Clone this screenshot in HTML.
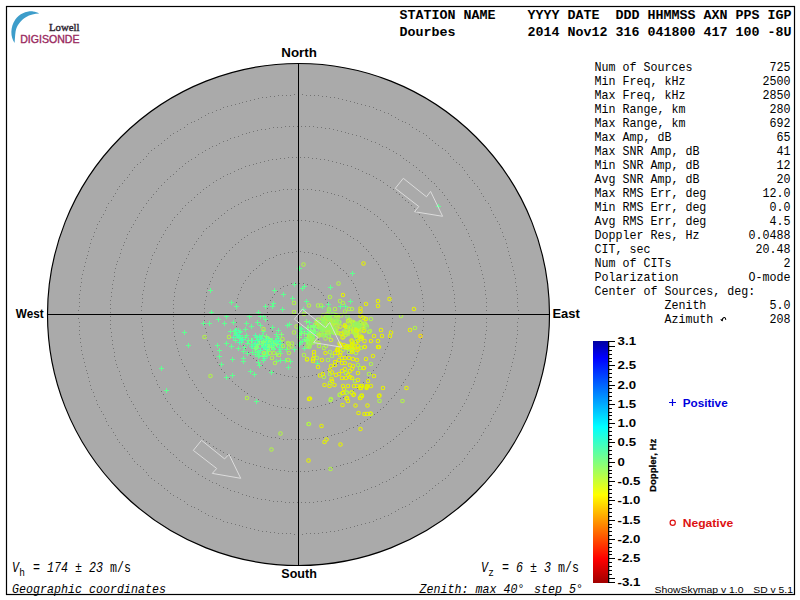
<!DOCTYPE html>
<html><head><meta charset="utf-8"><style>
html,body{margin:0;padding:0;background:#fff;width:800px;height:600px;overflow:hidden;position:relative}
text{font-kerning:none}
</style></head><body>
<svg width="800" height="600" viewBox="0 0 800 600" style="position:absolute;left:0;top:0">
<rect x="6.5" y="6.5" width="788" height="588" fill="none" stroke="#000" stroke-width="1.2"/>
<circle cx="298.5" cy="314.5" r="251" fill="#aaaaaa" stroke="#000" stroke-width="1.15"/>
<path d="M329,314h1v1h-1zM329,318h1v1h-1zM328,322h1v1h-1zM327,326h1v1h-1zM325,329h1v1h-1zM323,333h1v1h-1zM321,336h1v1h-1zM318,339h1v1h-1zM314,341h1v1h-1zM311,343h1v1h-1zM307,344h1v1h-1zM303,345h1v1h-1zM299,345h1v1h-1zM295,345h1v1h-1zM291,345h1v1h-1zM287,343h1v1h-1zM283,342h1v1h-1zM280,340h1v1h-1zM277,337h1v1h-1zM274,334h1v1h-1zM272,331h1v1h-1zM270,328h1v1h-1zM268,324h1v1h-1zM267,320h1v1h-1zM267,316h1v1h-1zM267,312h1v1h-1zM267,308h1v1h-1zM268,304h1v1h-1zM270,300h1v1h-1zM272,297h1v1h-1zM274,294h1v1h-1zM277,291h1v1h-1zM280,288h1v1h-1zM283,286h1v1h-1zM287,285h1v1h-1zM291,283h1v1h-1zM295,283h1v1h-1zM299,283h1v1h-1zM303,283h1v1h-1zM307,284h1v1h-1zM311,285h1v1h-1zM314,287h1v1h-1zM318,289h1v1h-1zM321,292h1v1h-1zM323,295h1v1h-1zM325,299h1v1h-1zM327,302h1v1h-1zM328,306h1v1h-1zM329,310h1v1h-1zM361,314h1v1h-1zM361,318h1v1h-1zM360,322h1v1h-1zM360,326h1v1h-1zM359,330h1v1h-1zM358,334h1v1h-1zM356,338h1v1h-1zM355,341h1v1h-1zM353,345h1v1h-1zM351,348h1v1h-1zM348,352h1v1h-1zM346,355h1v1h-1zM343,358h1v1h-1zM340,360h1v1h-1zM337,363h1v1h-1zM334,365h1v1h-1zM331,368h1v1h-1zM327,370h1v1h-1zM323,371h1v1h-1zM320,373h1v1h-1zM316,374h1v1h-1zM312,375h1v1h-1zM308,376h1v1h-1zM304,376h1v1h-1zM300,377h1v1h-1zM296,377h1v1h-1zM292,376h1v1h-1zM288,376h1v1h-1zM284,375h1v1h-1zM280,374h1v1h-1zM276,373h1v1h-1zM273,371h1v1h-1zM269,370h1v1h-1zM265,368h1v1h-1zM262,365h1v1h-1zM259,363h1v1h-1zM256,360h1v1h-1zM253,358h1v1h-1zM250,355h1v1h-1zM248,352h1v1h-1zM245,348h1v1h-1zM243,345h1v1h-1zM241,341h1v1h-1zM240,338h1v1h-1zM238,334h1v1h-1zM237,330h1v1h-1zM236,326h1v1h-1zM236,322h1v1h-1zM235,318h1v1h-1zM235,314h1v1h-1zM235,310h1v1h-1zM236,306h1v1h-1zM236,302h1v1h-1zM237,298h1v1h-1zM238,294h1v1h-1zM240,290h1v1h-1zM241,287h1v1h-1zM243,283h1v1h-1zM245,280h1v1h-1zM248,276h1v1h-1zM250,273h1v1h-1zM253,270h1v1h-1zM256,268h1v1h-1zM259,265h1v1h-1zM262,263h1v1h-1zM265,260h1v1h-1zM269,258h1v1h-1zM273,257h1v1h-1zM276,255h1v1h-1zM280,254h1v1h-1zM284,253h1v1h-1zM288,252h1v1h-1zM292,252h1v1h-1zM296,251h1v1h-1zM300,251h1v1h-1zM304,252h1v1h-1zM308,252h1v1h-1zM312,253h1v1h-1zM316,254h1v1h-1zM320,255h1v1h-1zM323,257h1v1h-1zM327,258h1v1h-1zM331,260h1v1h-1zM334,263h1v1h-1zM337,265h1v1h-1zM340,268h1v1h-1zM343,270h1v1h-1zM346,273h1v1h-1zM348,276h1v1h-1zM351,280h1v1h-1zM353,283h1v1h-1zM355,287h1v1h-1zM356,290h1v1h-1zM358,294h1v1h-1zM359,298h1v1h-1zM360,302h1v1h-1zM360,306h1v1h-1zM361,310h1v1h-1zM392,314h1v1h-1zM392,318h1v1h-1zM392,322h1v1h-1zM391,326h1v1h-1zM391,330h1v1h-1zM390,334h1v1h-1zM389,338h1v1h-1zM388,342h1v1h-1zM387,346h1v1h-1zM385,349h1v1h-1zM384,353h1v1h-1zM382,357h1v1h-1zM380,360h1v1h-1zM378,364h1v1h-1zM376,367h1v1h-1zM373,370h1v1h-1zM371,373h1v1h-1zM368,377h1v1h-1zM366,379h1v1h-1zM363,382h1v1h-1zM360,385h1v1h-1zM357,388h1v1h-1zM353,390h1v1h-1zM350,392h1v1h-1zM347,394h1v1h-1zM343,397h1v1h-1zM340,398h1v1h-1zM336,400h1v1h-1zM332,402h1v1h-1zM329,403h1v1h-1zM325,404h1v1h-1zM321,405h1v1h-1zM317,406h1v1h-1zM313,407h1v1h-1zM309,407h1v1h-1zM305,408h1v1h-1zM301,408h1v1h-1zM297,408h1v1h-1zM293,408h1v1h-1zM289,408h1v1h-1zM285,407h1v1h-1zM281,407h1v1h-1zM277,406h1v1h-1zM273,405h1v1h-1zM269,404h1v1h-1zM265,402h1v1h-1zM262,401h1v1h-1zM258,399h1v1h-1zM254,397h1v1h-1zM251,396h1v1h-1zM247,393h1v1h-1zM244,391h1v1h-1zM241,389h1v1h-1zM238,386h1v1h-1zM235,384h1v1h-1zM232,381h1v1h-1zM229,378h1v1h-1zM226,375h1v1h-1zM224,372h1v1h-1zM221,369h1v1h-1zM219,365h1v1h-1zM217,362h1v1h-1zM215,358h1v1h-1zM213,355h1v1h-1zM212,351h1v1h-1zM210,347h1v1h-1zM209,344h1v1h-1zM207,340h1v1h-1zM206,336h1v1h-1zM206,332h1v1h-1zM205,328h1v1h-1zM204,324h1v1h-1zM204,320h1v1h-1zM204,316h1v1h-1zM204,312h1v1h-1zM204,308h1v1h-1zM204,304h1v1h-1zM205,300h1v1h-1zM206,296h1v1h-1zM206,292h1v1h-1zM207,288h1v1h-1zM209,284h1v1h-1zM210,281h1v1h-1zM212,277h1v1h-1zM213,273h1v1h-1zM215,270h1v1h-1zM217,266h1v1h-1zM219,263h1v1h-1zM221,259h1v1h-1zM224,256h1v1h-1zM226,253h1v1h-1zM229,250h1v1h-1zM232,247h1v1h-1zM235,244h1v1h-1zM238,242h1v1h-1zM241,239h1v1h-1zM244,237h1v1h-1zM247,235h1v1h-1zM251,232h1v1h-1zM254,231h1v1h-1zM258,229h1v1h-1zM262,227h1v1h-1zM265,226h1v1h-1zM269,224h1v1h-1zM273,223h1v1h-1zM277,222h1v1h-1zM281,221h1v1h-1zM285,221h1v1h-1zM289,220h1v1h-1zM293,220h1v1h-1zM297,220h1v1h-1zM301,220h1v1h-1zM305,220h1v1h-1zM309,221h1v1h-1zM313,221h1v1h-1zM317,222h1v1h-1zM321,223h1v1h-1zM325,224h1v1h-1zM329,225h1v1h-1zM332,226h1v1h-1zM336,228h1v1h-1zM340,230h1v1h-1zM343,231h1v1h-1zM347,234h1v1h-1zM350,236h1v1h-1zM353,238h1v1h-1zM357,240h1v1h-1zM360,243h1v1h-1zM363,246h1v1h-1zM366,249h1v1h-1zM368,251h1v1h-1zM371,255h1v1h-1zM373,258h1v1h-1zM376,261h1v1h-1zM378,264h1v1h-1zM380,268h1v1h-1zM382,271h1v1h-1zM384,275h1v1h-1zM385,279h1v1h-1zM387,282h1v1h-1zM388,286h1v1h-1zM389,290h1v1h-1zM390,294h1v1h-1zM391,298h1v1h-1zM391,302h1v1h-1zM392,306h1v1h-1zM392,310h1v1h-1zM424,314h1v1h-1zM423,318h1v1h-1zM423,322h1v1h-1zM423,326h1v1h-1zM422,330h1v1h-1zM422,334h1v1h-1zM421,338h1v1h-1zM420,342h1v1h-1zM419,346h1v1h-1zM418,350h1v1h-1zM417,353h1v1h-1zM416,357h1v1h-1zM414,361h1v1h-1zM413,365h1v1h-1zM411,368h1v1h-1zM409,372h1v1h-1zM408,375h1v1h-1zM405,379h1v1h-1zM403,382h1v1h-1zM401,385h1v1h-1zM399,389h1v1h-1zM396,392h1v1h-1zM394,395h1v1h-1zM391,398h1v1h-1zM388,401h1v1h-1zM386,404h1v1h-1zM383,407h1v1h-1zM380,409h1v1h-1zM377,412h1v1h-1zM374,414h1v1h-1zM370,417h1v1h-1zM367,419h1v1h-1zM364,421h1v1h-1zM360,423h1v1h-1zM357,425h1v1h-1zM353,427h1v1h-1zM349,428h1v1h-1zM346,430h1v1h-1zM342,432h1v1h-1zM338,433h1v1h-1zM334,434h1v1h-1zM331,435h1v1h-1zM327,436h1v1h-1zM323,437h1v1h-1zM319,438h1v1h-1zM315,438h1v1h-1zM311,439h1v1h-1zM307,439h1v1h-1zM303,439h1v1h-1zM299,439h1v1h-1zM295,439h1v1h-1zM291,439h1v1h-1zM287,439h1v1h-1zM283,439h1v1h-1zM279,438h1v1h-1zM275,437h1v1h-1zM271,437h1v1h-1zM267,436h1v1h-1zM263,435h1v1h-1zM260,433h1v1h-1zM256,432h1v1h-1zM252,431h1v1h-1zM248,429h1v1h-1zM245,428h1v1h-1zM241,426h1v1h-1zM238,424h1v1h-1zM234,422h1v1h-1zM231,420h1v1h-1zM227,418h1v1h-1zM224,415h1v1h-1zM221,413h1v1h-1zM218,410h1v1h-1zM215,408h1v1h-1zM212,405h1v1h-1zM209,402h1v1h-1zM206,400h1v1h-1zM203,397h1v1h-1zM201,393h1v1h-1zM198,390h1v1h-1zM196,387h1v1h-1zM194,384h1v1h-1zM192,380h1v1h-1zM189,377h1v1h-1zM188,374h1v1h-1zM186,370h1v1h-1zM184,366h1v1h-1zM182,363h1v1h-1zM181,359h1v1h-1zM179,355h1v1h-1zM178,351h1v1h-1zM177,348h1v1h-1zM176,344h1v1h-1zM175,340h1v1h-1zM174,336h1v1h-1zM174,332h1v1h-1zM173,328h1v1h-1zM173,324h1v1h-1zM173,320h1v1h-1zM173,316h1v1h-1zM173,312h1v1h-1zM173,308h1v1h-1zM173,304h1v1h-1zM173,300h1v1h-1zM174,296h1v1h-1zM174,292h1v1h-1zM175,288h1v1h-1zM176,284h1v1h-1zM177,280h1v1h-1zM178,277h1v1h-1zM179,273h1v1h-1zM181,269h1v1h-1zM182,265h1v1h-1zM184,262h1v1h-1zM186,258h1v1h-1zM188,254h1v1h-1zM189,251h1v1h-1zM192,248h1v1h-1zM194,244h1v1h-1zM196,241h1v1h-1zM198,238h1v1h-1zM201,235h1v1h-1zM203,231h1v1h-1zM206,228h1v1h-1zM209,226h1v1h-1zM212,223h1v1h-1zM215,220h1v1h-1zM218,218h1v1h-1zM221,215h1v1h-1zM224,213h1v1h-1zM227,210h1v1h-1zM231,208h1v1h-1zM234,206h1v1h-1zM238,204h1v1h-1zM241,202h1v1h-1zM245,200h1v1h-1zM248,199h1v1h-1zM252,197h1v1h-1zM256,196h1v1h-1zM260,195h1v1h-1zM263,193h1v1h-1zM267,192h1v1h-1zM271,191h1v1h-1zM275,191h1v1h-1zM279,190h1v1h-1zM283,189h1v1h-1zM287,189h1v1h-1zM291,189h1v1h-1zM295,189h1v1h-1zM299,189h1v1h-1zM303,189h1v1h-1zM307,189h1v1h-1zM311,189h1v1h-1zM315,190h1v1h-1zM319,190h1v1h-1zM323,191h1v1h-1zM327,192h1v1h-1zM331,193h1v1h-1zM334,194h1v1h-1zM338,195h1v1h-1zM342,196h1v1h-1zM346,198h1v1h-1zM349,200h1v1h-1zM353,201h1v1h-1zM357,203h1v1h-1zM360,205h1v1h-1zM364,207h1v1h-1zM367,209h1v1h-1zM370,211h1v1h-1zM374,214h1v1h-1zM377,216h1v1h-1zM380,219h1v1h-1zM383,221h1v1h-1zM386,224h1v1h-1zM388,227h1v1h-1zM391,230h1v1h-1zM394,233h1v1h-1zM396,236h1v1h-1zM399,239h1v1h-1zM401,243h1v1h-1zM403,246h1v1h-1zM405,249h1v1h-1zM408,253h1v1h-1zM409,256h1v1h-1zM411,260h1v1h-1zM413,263h1v1h-1zM414,267h1v1h-1zM416,271h1v1h-1zM417,275h1v1h-1zM418,278h1v1h-1zM419,282h1v1h-1zM420,286h1v1h-1zM421,290h1v1h-1zM422,294h1v1h-1zM422,298h1v1h-1zM423,302h1v1h-1zM423,306h1v1h-1zM423,310h1v1h-1zM455,314h1v1h-1zM455,318h1v1h-1zM455,322h1v1h-1zM454,326h1v1h-1zM454,330h1v1h-1zM454,334h1v1h-1zM453,338h1v1h-1zM452,342h1v1h-1zM452,346h1v1h-1zM451,350h1v1h-1zM450,354h1v1h-1zM449,357h1v1h-1zM448,361h1v1h-1zM446,365h1v1h-1zM445,369h1v1h-1zM444,373h1v1h-1zM442,376h1v1h-1zM440,380h1v1h-1zM439,384h1v1h-1zM437,387h1v1h-1zM435,391h1v1h-1zM433,394h1v1h-1zM431,398h1v1h-1zM429,401h1v1h-1zM426,404h1v1h-1zM424,408h1v1h-1zM422,411h1v1h-1zM419,414h1v1h-1zM416,417h1v1h-1zM414,420h1v1h-1zM411,423h1v1h-1zM408,426h1v1h-1zM405,428h1v1h-1zM402,431h1v1h-1zM399,434h1v1h-1zM396,436h1v1h-1zM393,439h1v1h-1zM390,441h1v1h-1zM387,443h1v1h-1zM383,446h1v1h-1zM380,448h1v1h-1zM376,450h1v1h-1zM373,452h1v1h-1zM369,454h1v1h-1zM366,455h1v1h-1zM362,457h1v1h-1zM358,459h1v1h-1zM355,460h1v1h-1zM351,462h1v1h-1zM347,463h1v1h-1zM343,464h1v1h-1zM340,465h1v1h-1zM336,466h1v1h-1zM332,467h1v1h-1zM328,468h1v1h-1zM324,469h1v1h-1zM320,469h1v1h-1zM316,470h1v1h-1zM312,470h1v1h-1zM308,471h1v1h-1zM304,471h1v1h-1zM300,471h1v1h-1zM296,471h1v1h-1zM292,471h1v1h-1zM288,471h1v1h-1zM284,470h1v1h-1zM280,470h1v1h-1zM276,469h1v1h-1zM272,469h1v1h-1zM268,468h1v1h-1zM264,467h1v1h-1zM260,466h1v1h-1zM256,465h1v1h-1zM253,464h1v1h-1zM249,463h1v1h-1zM245,462h1v1h-1zM241,460h1v1h-1zM238,459h1v1h-1zM234,457h1v1h-1zM230,455h1v1h-1zM227,454h1v1h-1zM223,452h1v1h-1zM220,450h1v1h-1zM216,448h1v1h-1zM213,446h1v1h-1zM209,443h1v1h-1zM206,441h1v1h-1zM203,439h1v1h-1zM200,436h1v1h-1zM197,434h1v1h-1zM194,431h1v1h-1zM191,428h1v1h-1zM188,426h1v1h-1zM185,423h1v1h-1zM182,420h1v1h-1zM180,417h1v1h-1zM177,414h1v1h-1zM174,411h1v1h-1zM172,408h1v1h-1zM170,404h1v1h-1zM167,401h1v1h-1zM165,398h1v1h-1zM163,394h1v1h-1zM161,391h1v1h-1zM159,387h1v1h-1zM157,384h1v1h-1zM156,380h1v1h-1zM154,376h1v1h-1zM152,373h1v1h-1zM151,369h1v1h-1zM150,365h1v1h-1zM148,361h1v1h-1zM147,357h1v1h-1zM146,354h1v1h-1zM145,350h1v1h-1zM144,346h1v1h-1zM144,342h1v1h-1zM143,338h1v1h-1zM142,334h1v1h-1zM142,330h1v1h-1zM142,326h1v1h-1zM141,322h1v1h-1zM141,318h1v1h-1zM141,314h1v1h-1zM141,310h1v1h-1zM141,306h1v1h-1zM142,302h1v1h-1zM142,298h1v1h-1zM142,294h1v1h-1zM143,290h1v1h-1zM144,286h1v1h-1zM144,282h1v1h-1zM145,278h1v1h-1zM146,274h1v1h-1zM147,271h1v1h-1zM148,267h1v1h-1zM150,263h1v1h-1zM151,259h1v1h-1zM152,255h1v1h-1zM154,252h1v1h-1zM156,248h1v1h-1zM157,244h1v1h-1zM159,241h1v1h-1zM161,237h1v1h-1zM163,234h1v1h-1zM165,230h1v1h-1zM167,227h1v1h-1zM170,224h1v1h-1zM172,220h1v1h-1zM174,217h1v1h-1zM177,214h1v1h-1zM180,211h1v1h-1zM182,208h1v1h-1zM185,205h1v1h-1zM188,202h1v1h-1zM191,200h1v1h-1zM194,197h1v1h-1zM197,194h1v1h-1zM200,192h1v1h-1zM203,189h1v1h-1zM206,187h1v1h-1zM209,185h1v1h-1zM213,182h1v1h-1zM216,180h1v1h-1zM220,178h1v1h-1zM223,176h1v1h-1zM227,174h1v1h-1zM230,173h1v1h-1zM234,171h1v1h-1zM238,169h1v1h-1zM241,168h1v1h-1zM245,166h1v1h-1zM249,165h1v1h-1zM253,164h1v1h-1zM256,163h1v1h-1zM260,162h1v1h-1zM264,161h1v1h-1zM268,160h1v1h-1zM272,159h1v1h-1zM276,159h1v1h-1zM280,158h1v1h-1zM284,158h1v1h-1zM288,157h1v1h-1zM292,157h1v1h-1zM296,157h1v1h-1zM300,157h1v1h-1zM304,157h1v1h-1zM308,157h1v1h-1zM312,158h1v1h-1zM316,158h1v1h-1zM320,159h1v1h-1zM324,159h1v1h-1zM328,160h1v1h-1zM332,161h1v1h-1zM336,162h1v1h-1zM340,163h1v1h-1zM343,164h1v1h-1zM347,165h1v1h-1zM351,166h1v1h-1zM355,168h1v1h-1zM358,169h1v1h-1zM362,171h1v1h-1zM366,173h1v1h-1zM369,174h1v1h-1zM373,176h1v1h-1zM376,178h1v1h-1zM380,180h1v1h-1zM383,182h1v1h-1zM387,185h1v1h-1zM390,187h1v1h-1zM393,189h1v1h-1zM396,192h1v1h-1zM399,194h1v1h-1zM402,197h1v1h-1zM405,200h1v1h-1zM408,202h1v1h-1zM411,205h1v1h-1zM414,208h1v1h-1zM416,211h1v1h-1zM419,214h1v1h-1zM422,217h1v1h-1zM424,220h1v1h-1zM426,224h1v1h-1zM429,227h1v1h-1zM431,230h1v1h-1zM433,234h1v1h-1zM435,237h1v1h-1zM437,241h1v1h-1zM439,244h1v1h-1zM440,248h1v1h-1zM442,252h1v1h-1zM444,255h1v1h-1zM445,259h1v1h-1zM446,263h1v1h-1zM448,267h1v1h-1zM449,271h1v1h-1zM450,274h1v1h-1zM451,278h1v1h-1zM452,282h1v1h-1zM452,286h1v1h-1zM453,290h1v1h-1zM454,294h1v1h-1zM454,298h1v1h-1zM454,302h1v1h-1zM455,306h1v1h-1zM455,310h1v1h-1zM486,314h1v1h-1zM486,318h1v1h-1zM486,322h1v1h-1zM486,326h1v1h-1zM486,330h1v1h-1zM485,334h1v1h-1zM485,338h1v1h-1zM484,342h1v1h-1zM484,346h1v1h-1zM483,350h1v1h-1zM482,354h1v1h-1zM481,358h1v1h-1zM480,362h1v1h-1zM479,365h1v1h-1zM478,369h1v1h-1zM477,373h1v1h-1zM475,377h1v1h-1zM474,381h1v1h-1zM473,384h1v1h-1zM471,388h1v1h-1zM469,392h1v1h-1zM468,395h1v1h-1zM466,399h1v1h-1zM464,403h1v1h-1zM462,406h1v1h-1zM460,410h1v1h-1zM458,413h1v1h-1zM456,416h1v1h-1zM454,420h1v1h-1zM451,423h1v1h-1zM449,426h1v1h-1zM447,429h1v1h-1zM444,433h1v1h-1zM442,436h1v1h-1zM439,439h1v1h-1zM436,442h1v1h-1zM434,445h1v1h-1zM431,447h1v1h-1zM428,450h1v1h-1zM425,453h1v1h-1zM422,456h1v1h-1zM419,458h1v1h-1zM416,461h1v1h-1zM413,463h1v1h-1zM409,466h1v1h-1zM406,468h1v1h-1zM403,470h1v1h-1zM400,473h1v1h-1zM396,475h1v1h-1zM393,477h1v1h-1zM389,479h1v1h-1zM386,481h1v1h-1zM382,482h1v1h-1zM379,484h1v1h-1zM375,486h1v1h-1zM371,487h1v1h-1zM367,489h1v1h-1zM364,490h1v1h-1zM360,492h1v1h-1zM356,493h1v1h-1zM352,494h1v1h-1zM348,495h1v1h-1zM345,496h1v1h-1zM341,497h1v1h-1zM337,498h1v1h-1zM333,499h1v1h-1zM329,500h1v1h-1zM325,500h1v1h-1zM321,501h1v1h-1zM317,501h1v1h-1zM313,502h1v1h-1zM309,502h1v1h-1zM305,502h1v1h-1zM301,502h1v1h-1zM297,502h1v1h-1zM293,502h1v1h-1zM289,502h1v1h-1zM285,502h1v1h-1zM281,501h1v1h-1zM277,501h1v1h-1zM273,501h1v1h-1zM269,500h1v1h-1zM265,499h1v1h-1zM261,499h1v1h-1zM257,498h1v1h-1zM253,497h1v1h-1zM249,496h1v1h-1zM246,495h1v1h-1zM242,494h1v1h-1zM238,492h1v1h-1zM234,491h1v1h-1zM230,490h1v1h-1zM227,488h1v1h-1zM223,487h1v1h-1zM219,485h1v1h-1zM216,483h1v1h-1zM212,482h1v1h-1zM209,480h1v1h-1zM205,478h1v1h-1zM202,476h1v1h-1zM198,474h1v1h-1zM195,471h1v1h-1zM191,469h1v1h-1zM188,467h1v1h-1zM185,465h1v1h-1zM182,462h1v1h-1zM179,460h1v1h-1zM176,457h1v1h-1zM173,454h1v1h-1zM170,452h1v1h-1zM167,449h1v1h-1zM164,446h1v1h-1zM161,443h1v1h-1zM158,440h1v1h-1zM156,437h1v1h-1zM153,434h1v1h-1zM151,431h1v1h-1zM148,428h1v1h-1zM146,425h1v1h-1zM143,421h1v1h-1zM141,418h1v1h-1zM139,415h1v1h-1zM137,411h1v1h-1zM135,408h1v1h-1zM133,404h1v1h-1zM131,401h1v1h-1zM129,397h1v1h-1zM127,394h1v1h-1zM126,390h1v1h-1zM124,386h1v1h-1zM123,383h1v1h-1zM121,379h1v1h-1zM120,375h1v1h-1zM119,371h1v1h-1zM117,367h1v1h-1zM116,364h1v1h-1zM115,360h1v1h-1zM114,356h1v1h-1zM114,352h1v1h-1zM113,348h1v1h-1zM112,344h1v1h-1zM112,340h1v1h-1zM111,336h1v1h-1zM111,332h1v1h-1zM110,328h1v1h-1zM110,324h1v1h-1zM110,320h1v1h-1zM110,316h1v1h-1zM110,312h1v1h-1zM110,308h1v1h-1zM110,304h1v1h-1zM110,300h1v1h-1zM111,296h1v1h-1zM111,292h1v1h-1zM112,288h1v1h-1zM112,284h1v1h-1zM113,280h1v1h-1zM114,276h1v1h-1zM114,272h1v1h-1zM115,268h1v1h-1zM116,264h1v1h-1zM117,261h1v1h-1zM119,257h1v1h-1zM120,253h1v1h-1zM121,249h1v1h-1zM123,245h1v1h-1zM124,242h1v1h-1zM126,238h1v1h-1zM127,234h1v1h-1zM129,231h1v1h-1zM131,227h1v1h-1zM133,224h1v1h-1zM135,220h1v1h-1zM137,217h1v1h-1zM139,213h1v1h-1zM141,210h1v1h-1zM143,207h1v1h-1zM146,203h1v1h-1zM148,200h1v1h-1zM151,197h1v1h-1zM153,194h1v1h-1zM156,191h1v1h-1zM158,188h1v1h-1zM161,185h1v1h-1zM164,182h1v1h-1zM167,179h1v1h-1zM170,176h1v1h-1zM173,174h1v1h-1zM176,171h1v1h-1zM179,168h1v1h-1zM182,166h1v1h-1zM185,163h1v1h-1zM188,161h1v1h-1zM191,159h1v1h-1zM195,157h1v1h-1zM198,154h1v1h-1zM202,152h1v1h-1zM205,150h1v1h-1zM209,148h1v1h-1zM212,146h1v1h-1zM216,145h1v1h-1zM219,143h1v1h-1zM223,141h1v1h-1zM227,140h1v1h-1zM230,138h1v1h-1zM234,137h1v1h-1zM238,136h1v1h-1zM242,134h1v1h-1zM246,133h1v1h-1zM249,132h1v1h-1zM253,131h1v1h-1zM257,130h1v1h-1zM261,129h1v1h-1zM265,129h1v1h-1zM269,128h1v1h-1zM273,127h1v1h-1zM277,127h1v1h-1zM281,127h1v1h-1zM285,126h1v1h-1zM289,126h1v1h-1zM293,126h1v1h-1zM297,126h1v1h-1zM301,126h1v1h-1zM305,126h1v1h-1zM309,126h1v1h-1zM313,126h1v1h-1zM317,127h1v1h-1zM321,127h1v1h-1zM325,128h1v1h-1zM329,128h1v1h-1zM333,129h1v1h-1zM337,130h1v1h-1zM341,131h1v1h-1zM345,132h1v1h-1zM348,133h1v1h-1zM352,134h1v1h-1zM356,135h1v1h-1zM360,136h1v1h-1zM364,138h1v1h-1zM367,139h1v1h-1zM371,141h1v1h-1zM375,142h1v1h-1zM379,144h1v1h-1zM382,146h1v1h-1zM386,147h1v1h-1zM389,149h1v1h-1zM393,151h1v1h-1zM396,153h1v1h-1zM400,155h1v1h-1zM403,158h1v1h-1zM406,160h1v1h-1zM409,162h1v1h-1zM413,165h1v1h-1zM416,167h1v1h-1zM419,170h1v1h-1zM422,172h1v1h-1zM425,175h1v1h-1zM428,178h1v1h-1zM431,181h1v1h-1zM434,183h1v1h-1zM436,186h1v1h-1zM439,189h1v1h-1zM442,192h1v1h-1zM444,195h1v1h-1zM447,199h1v1h-1zM449,202h1v1h-1zM451,205h1v1h-1zM454,208h1v1h-1zM456,212h1v1h-1zM458,215h1v1h-1zM460,218h1v1h-1zM462,222h1v1h-1zM464,225h1v1h-1zM466,229h1v1h-1zM468,233h1v1h-1zM469,236h1v1h-1zM471,240h1v1h-1zM473,244h1v1h-1zM474,247h1v1h-1zM475,251h1v1h-1zM477,255h1v1h-1zM478,259h1v1h-1zM479,263h1v1h-1zM480,266h1v1h-1zM481,270h1v1h-1zM482,274h1v1h-1zM483,278h1v1h-1zM484,282h1v1h-1zM484,286h1v1h-1zM485,290h1v1h-1zM485,294h1v1h-1zM486,298h1v1h-1zM486,302h1v1h-1zM486,306h1v1h-1zM486,310h1v1h-1zM518,314h1v1h-1zM518,318h1v1h-1zM517,322h1v1h-1zM517,326h1v1h-1zM517,330h1v1h-1zM517,334h1v1h-1zM516,338h1v1h-1zM516,342h1v1h-1zM515,346h1v1h-1zM515,350h1v1h-1zM514,354h1v1h-1zM513,358h1v1h-1zM512,362h1v1h-1zM511,366h1v1h-1zM510,370h1v1h-1zM509,373h1v1h-1zM508,377h1v1h-1zM507,381h1v1h-1zM506,385h1v1h-1zM505,389h1v1h-1zM503,392h1v1h-1zM502,396h1v1h-1zM500,400h1v1h-1zM499,404h1v1h-1zM497,407h1v1h-1zM495,411h1v1h-1zM493,414h1v1h-1zM491,418h1v1h-1zM490,421h1v1h-1zM488,425h1v1h-1zM485,428h1v1h-1zM483,432h1v1h-1zM481,435h1v1h-1zM479,439h1v1h-1zM477,442h1v1h-1zM474,445h1v1h-1zM472,448h1v1h-1zM469,451h1v1h-1zM467,454h1v1h-1zM464,458h1v1h-1zM462,461h1v1h-1zM459,464h1v1h-1zM456,466h1v1h-1zM453,469h1v1h-1zM450,472h1v1h-1zM448,475h1v1h-1zM445,478h1v1h-1zM442,480h1v1h-1zM438,483h1v1h-1zM435,485h1v1h-1zM432,488h1v1h-1zM429,490h1v1h-1zM426,493h1v1h-1zM423,495h1v1h-1zM419,497h1v1h-1zM416,499h1v1h-1zM412,501h1v1h-1zM409,504h1v1h-1zM405,506h1v1h-1zM402,507h1v1h-1zM398,509h1v1h-1zM395,511h1v1h-1zM391,513h1v1h-1zM388,515h1v1h-1zM384,516h1v1h-1zM380,518h1v1h-1zM376,519h1v1h-1zM373,521h1v1h-1zM369,522h1v1h-1zM365,523h1v1h-1zM361,524h1v1h-1zM357,525h1v1h-1zM354,526h1v1h-1zM350,527h1v1h-1zM346,528h1v1h-1zM342,529h1v1h-1zM338,530h1v1h-1zM334,531h1v1h-1zM330,531h1v1h-1zM326,532h1v1h-1zM322,532h1v1h-1zM318,533h1v1h-1zM314,533h1v1h-1zM310,533h1v1h-1zM306,533h1v1h-1zM302,534h1v1h-1zM298,534h1v1h-1zM294,534h1v1h-1zM290,533h1v1h-1zM286,533h1v1h-1zM282,533h1v1h-1zM278,533h1v1h-1zM274,532h1v1h-1zM270,532h1v1h-1zM266,531h1v1h-1zM262,531h1v1h-1zM258,530h1v1h-1zM254,529h1v1h-1zM250,528h1v1h-1zM246,527h1v1h-1zM242,526h1v1h-1zM239,525h1v1h-1zM235,524h1v1h-1zM231,523h1v1h-1zM227,522h1v1h-1zM223,521h1v1h-1zM220,519h1v1h-1zM216,518h1v1h-1zM212,516h1v1h-1zM208,515h1v1h-1zM205,513h1v1h-1zM201,511h1v1h-1zM198,509h1v1h-1zM194,507h1v1h-1zM191,506h1v1h-1zM187,504h1v1h-1zM184,501h1v1h-1zM180,499h1v1h-1zM177,497h1v1h-1zM173,495h1v1h-1zM170,493h1v1h-1zM167,490h1v1h-1zM164,488h1v1h-1zM161,485h1v1h-1zM158,483h1v1h-1zM154,480h1v1h-1zM151,478h1v1h-1zM148,475h1v1h-1zM146,472h1v1h-1zM143,469h1v1h-1zM140,466h1v1h-1zM137,464h1v1h-1zM134,461h1v1h-1zM132,458h1v1h-1zM129,454h1v1h-1zM127,451h1v1h-1zM124,448h1v1h-1zM122,445h1v1h-1zM119,442h1v1h-1zM117,439h1v1h-1zM115,435h1v1h-1zM113,432h1v1h-1zM111,428h1v1h-1zM108,425h1v1h-1zM106,421h1v1h-1zM105,418h1v1h-1zM103,414h1v1h-1zM101,411h1v1h-1zM99,407h1v1h-1zM97,404h1v1h-1zM96,400h1v1h-1zM94,396h1v1h-1zM93,392h1v1h-1zM91,389h1v1h-1zM90,385h1v1h-1zM89,381h1v1h-1zM88,377h1v1h-1zM87,373h1v1h-1zM86,370h1v1h-1zM85,366h1v1h-1zM84,362h1v1h-1zM83,358h1v1h-1zM82,354h1v1h-1zM81,350h1v1h-1zM81,346h1v1h-1zM80,342h1v1h-1zM80,338h1v1h-1zM79,334h1v1h-1zM79,330h1v1h-1zM79,326h1v1h-1zM79,322h1v1h-1zM78,318h1v1h-1zM78,314h1v1h-1zM78,310h1v1h-1zM79,306h1v1h-1zM79,302h1v1h-1zM79,298h1v1h-1zM79,294h1v1h-1zM80,290h1v1h-1zM80,286h1v1h-1zM81,282h1v1h-1zM81,278h1v1h-1zM82,274h1v1h-1zM83,270h1v1h-1zM84,266h1v1h-1zM85,262h1v1h-1zM86,258h1v1h-1zM87,255h1v1h-1zM88,251h1v1h-1zM89,247h1v1h-1zM90,243h1v1h-1zM91,239h1v1h-1zM93,236h1v1h-1zM94,232h1v1h-1zM96,228h1v1h-1zM97,224h1v1h-1zM99,221h1v1h-1zM101,217h1v1h-1zM103,214h1v1h-1zM105,210h1v1h-1zM106,207h1v1h-1zM108,203h1v1h-1zM111,200h1v1h-1zM113,196h1v1h-1zM115,193h1v1h-1zM117,189h1v1h-1zM119,186h1v1h-1zM122,183h1v1h-1zM124,180h1v1h-1zM127,177h1v1h-1zM129,174h1v1h-1zM132,170h1v1h-1zM134,167h1v1h-1zM137,164h1v1h-1zM140,162h1v1h-1zM143,159h1v1h-1zM146,156h1v1h-1zM148,153h1v1h-1zM151,150h1v1h-1zM154,148h1v1h-1zM158,145h1v1h-1zM161,143h1v1h-1zM164,140h1v1h-1zM167,138h1v1h-1zM170,135h1v1h-1zM173,133h1v1h-1zM177,131h1v1h-1zM180,129h1v1h-1zM184,127h1v1h-1zM187,124h1v1h-1zM191,122h1v1h-1zM194,121h1v1h-1zM198,119h1v1h-1zM201,117h1v1h-1zM205,115h1v1h-1zM208,113h1v1h-1zM212,112h1v1h-1zM216,110h1v1h-1zM220,109h1v1h-1zM223,107h1v1h-1zM227,106h1v1h-1zM231,105h1v1h-1zM235,104h1v1h-1zM239,103h1v1h-1zM242,102h1v1h-1zM246,101h1v1h-1zM250,100h1v1h-1zM254,99h1v1h-1zM258,98h1v1h-1zM262,97h1v1h-1zM266,97h1v1h-1zM270,96h1v1h-1zM274,96h1v1h-1zM278,95h1v1h-1zM282,95h1v1h-1zM286,95h1v1h-1zM290,95h1v1h-1zM294,94h1v1h-1zM298,94h1v1h-1zM302,94h1v1h-1zM306,95h1v1h-1zM310,95h1v1h-1zM314,95h1v1h-1zM318,95h1v1h-1zM322,96h1v1h-1zM326,96h1v1h-1zM330,97h1v1h-1zM334,97h1v1h-1zM338,98h1v1h-1zM342,99h1v1h-1zM346,100h1v1h-1zM350,101h1v1h-1zM354,102h1v1h-1zM357,103h1v1h-1zM361,104h1v1h-1zM365,105h1v1h-1zM369,106h1v1h-1zM373,107h1v1h-1zM376,109h1v1h-1zM380,110h1v1h-1zM384,112h1v1h-1zM388,113h1v1h-1zM391,115h1v1h-1zM395,117h1v1h-1zM398,119h1v1h-1zM402,121h1v1h-1zM405,122h1v1h-1zM409,124h1v1h-1zM412,127h1v1h-1zM416,129h1v1h-1zM419,131h1v1h-1zM423,133h1v1h-1zM426,135h1v1h-1zM429,138h1v1h-1zM432,140h1v1h-1zM435,143h1v1h-1zM438,145h1v1h-1zM442,148h1v1h-1zM445,150h1v1h-1zM448,153h1v1h-1zM450,156h1v1h-1zM453,159h1v1h-1zM456,162h1v1h-1zM459,164h1v1h-1zM462,167h1v1h-1zM464,170h1v1h-1zM467,174h1v1h-1zM469,177h1v1h-1zM472,180h1v1h-1zM474,183h1v1h-1zM477,186h1v1h-1zM479,189h1v1h-1zM481,193h1v1h-1zM483,196h1v1h-1zM485,200h1v1h-1zM488,203h1v1h-1zM490,207h1v1h-1zM491,210h1v1h-1zM493,214h1v1h-1zM495,217h1v1h-1zM497,221h1v1h-1zM499,224h1v1h-1zM500,228h1v1h-1zM502,232h1v1h-1zM503,236h1v1h-1zM505,239h1v1h-1zM506,243h1v1h-1zM507,247h1v1h-1zM508,251h1v1h-1zM509,255h1v1h-1zM510,258h1v1h-1zM511,262h1v1h-1zM512,266h1v1h-1zM513,270h1v1h-1zM514,274h1v1h-1zM515,278h1v1h-1zM515,282h1v1h-1zM516,286h1v1h-1zM516,290h1v1h-1zM517,294h1v1h-1zM517,298h1v1h-1zM517,302h1v1h-1zM517,306h1v1h-1zM518,310h1v1h-1z" fill="#747474"/>
<path d="M257,336.5h5M259.5,334v5M266,350.5h5M268.5,348v5M242,347.5h5M244.5,345v5M268,341.5h5M270.5,339v5M266,338.5h5M268.5,336v5M267,346.5h5M269.5,344v5M267,347.5h5M269.5,345v5M256,352.5h5M258.5,350v5M276,338.5h5M278.5,336v5M256,344.5h5M258.5,342v5M264,340.5h5M266.5,338v5M261,353.5h5M263.5,351v5M268,343.5h5M270.5,341v5M273,340.5h5M275.5,338v5M262,342.5h5M264.5,340v5M272,345.5h5M274.5,343v5M257,339.5h5M259.5,337v5M275,344.5h5M277.5,342v5M270,340.5h5M272.5,338v5M271,348.5h5M273.5,346v5M278,353.5h5M280.5,351v5M252,344.5h5M254.5,342v5M263,341.5h5M265.5,339v5M264,349.5h5M266.5,347v5M262,347.5h5M264.5,345v5M264,346.5h5M266.5,344v5M270,341.5h5M272.5,339v5M274,334.5h5M276.5,332v5M261,355.5h5M263.5,353v5M265,355.5h5M267.5,353v5M269,341.5h5M271.5,339v5M275,336.5h5M277.5,334v5M262,344.5h5M264.5,342v5M263,347.5h5M265.5,345v5M263,339.5h5M265.5,337v5M260,343.5h5M262.5,341v5M259,344.5h5M261.5,342v5M249,346.5h5M251.5,344v5M262,345.5h5M264.5,343v5M266,342.5h5M268.5,340v5M261,331.5h5M263.5,329v5M271,342.5h5M273.5,340v5M265,339.5h5M267.5,337v5M253,354.5h5M255.5,352v5M233,333.5h5M235.5,331v5M235,335.5h5M237.5,333v5M240,337.5h5M242.5,335v5M228,331.5h5M230.5,329v5M236,330.5h5M238.5,328v5M232,331.5h5M234.5,329v5M237,338.5h5M239.5,336v5M243,337.5h5M245.5,335v5M307,322.5h5M309.5,320v5M312,333.5h5M314.5,331v5M320,320.5h5M322.5,318v5M312,327.5h5M314.5,325v5M318,328.5h5M320.5,326v5M311,327.5h5M313.5,325v5M315,333.5h5M317.5,331v5M321,320.5h5M323.5,318v5M310,336.5h5M312.5,334v5M298,342.5h5M300.5,340v5M298,329.5h5M300.5,327v5M298,329.5h5M300.5,327v5M298,332.5h5M300.5,330v5M297,335.5h5M299.5,333v5M299,328.5h5M301.5,326v5M297,328.5h5M299.5,326v5M297,344.5h5M299.5,342v5M302,339.5h5M304.5,337v5M309,339.5h5M311.5,337v5M305,337.5h5M307.5,335v5M309,333.5h5M311.5,331v5M312,335.5h5M314.5,333v5M305,341.5h5M307.5,339v5M305,331.5h5M307.5,329v5M308,338.5h5M310.5,336v5M306,338.5h5M308.5,336v5M307,335.5h5M309.5,333v5M304,340.5h5M306.5,338v5M302,331.5h5M304.5,329v5M264,352.5h5M266.5,350v5M278,349.5h5M280.5,347v5M255,351.5h5M257.5,349v5M256,356.5h5M258.5,354v5M268,341.5h5M270.5,339v5M262,342.5h5M264.5,340v5M261,356.5h5M263.5,354v5M260,335.5h5M262.5,333v5M265,345.5h5M267.5,343v5M262,347.5h5M264.5,345v5M269,340.5h5M271.5,338v5M261,340.5h5M263.5,338v5M261,343.5h5M263.5,341v5M246,340.5h5M248.5,338v5M249,344.5h5M251.5,342v5M254,337.5h5M256.5,335v5M265,344.5h5M267.5,342v5M277,351.5h5M279.5,349v5M252,348.5h5M254.5,346v5M208,290.5h5M210.5,288v5M229,302.5h5M231.5,300v5M234,306.5h5M236.5,304v5M209,312.5h5M211.5,310v5M224,316.5h5M226.5,314v5M216,319.5h5M218.5,317v5M247,316.5h5M249.5,314v5M201,323.5h5M203.5,321v5M207,323.5h5M209.5,321v5M222,323.5h5M224.5,321v5M231,322.5h5M233.5,320v5M244,323.5h5M246.5,321v5M297,268.5h5M299.5,266v5M292,284.5h5M294.5,282v5M302,286.5h5M304.5,284v5M300,288.5h5M302.5,286v5M436,206.5h5M438.5,204v5M350,273.5h5M352.5,271v5M328,287.5h5M330.5,285v5M182,332.5h5M184.5,330v5M186,345.5h5M188.5,343v5M159,368.5h5M161.5,366v5M164,390.5h5M166.5,388v5M215,345.5h5M217.5,343v5M217,350.5h5M219.5,348v5M217,356.5h5M219.5,354v5M224,343.5h5M226.5,341v5M229,346.5h5M231.5,344v5M219,364.5h5M221.5,362v5M230,359.5h5M232.5,357v5M241,358.5h5M243.5,356v5M241,361.5h5M243.5,359v5M230,375.5h5M232.5,373v5M224,377.5h5M226.5,375v5M236,348.5h5M238.5,346v5M241,351.5h5M243.5,349v5M245,353.5h5M247.5,351v5M233,330.5h5M235.5,328v5M234,334.5h5M236.5,332v5M233,340.5h5M235.5,338v5M238,331.5h5M240.5,329v5M243,329.5h5M245.5,327v5M244,335.5h5M246.5,333v5M239,342.5h5M241.5,340v5M245,343.5h5M247.5,341v5M240,337.5h5M242.5,335v5M254,401.5h5M256.5,399v5M304,301.5h5M306.5,299v5M348,301.5h5M350.5,299v5M338,306.5h5M340.5,304v5M343,306.5h5M345.5,304v5M326,304.5h5M328.5,302v5M320,306.5h5M322.5,304v5M301,309.5h5M303.5,307v5M224,343.5h5M226.5,341v5M229,346.5h5M231.5,344v5M263,306.5h5M265.5,304v5M271,303.5h5M273.5,301v5M270,306.5h5M272.5,304v5M280,309.5h5M282.5,307v5M256,312.5h5M258.5,310v5M258,316.5h5M260.5,314v5M261,316.5h5M263.5,314v5M263,319.5h5M265.5,317v5M255,322.5h5M257.5,320v5M249,326.5h5M251.5,324v5M258,325.5h5M260.5,323v5M270,327.5h5M272.5,325v5M276,330.5h5M278.5,328v5M285,325.5h5M287.5,323v5M287,324.5h5M289.5,322v5M272,290.5h5M274.5,288v5M281,294.5h5M283.5,292v5M290,298.5h5M292.5,296v5M271,303.5h5M273.5,301v5M256,312.5h5M258.5,310v5M315,363.5h5M317.5,361v5M302,348.5h5M304.5,346v5M241,351.5h5M243.5,349v5M245,353.5h5M247.5,351v5M250,352.5h5M252.5,350v5M255,348.5h5M257.5,346v5M257,355.5h5M259.5,353v5M262,355.5h5M264.5,353v5M261,360.5h5M263.5,358v5M256,362.5h5M258.5,360v5M257,365.5h5M259.5,363v5M248,371.5h5M250.5,369v5M252,374.5h5M254.5,372v5M269,372.5h5M271.5,370v5M286,367.5h5M288.5,365v5M288,361.5h5M290.5,359v5M283,360.5h5M285.5,358v5M278,360.5h5M280.5,358v5M274,361.5h5M276.5,359v5M292,349.5h5M294.5,347v5M284,349.5h5M286.5,347v5M280,347.5h5M282.5,345v5M271,349.5h5M273.5,347v5M266,347.5h5M268.5,345v5M300,341.5h5M302.5,339v5" stroke="#60ff90" stroke-width="1" fill="none"/>
<path d="M264,341.5h5M266.5,339v5M267,347.5h5M269.5,345v5M265,339.5h5M267.5,337v5M259,341.5h5M261.5,339v5M262,346.5h5M264.5,344v5M257,341.5h5M259.5,339v5M262,356.5h5M264.5,354v5M261,342.5h5M263.5,340v5M267,339.5h5M269.5,337v5M264,336.5h5M266.5,334v5M264,346.5h5M266.5,344v5M259,341.5h5M261.5,339v5M279,334.5h5M281.5,332v5M265,349.5h5M267.5,347v5M274,354.5h5M276.5,352v5M266,341.5h5M268.5,339v5M271,343.5h5M273.5,341v5M255,344.5h5M257.5,342v5M261,345.5h5M263.5,343v5M274,344.5h5M276.5,342v5M266,338.5h5M268.5,336v5M313,331.5h5M315.5,329v5M316,328.5h5M318.5,326v5M311,325.5h5M313.5,323v5M314,320.5h5M316.5,318v5M308,332.5h5M310.5,330v5M305,327.5h5M307.5,325v5M304,321.5h5M306.5,319v5M310,338.5h5M312.5,336v5M315,323.5h5M317.5,321v5M320,328.5h5M322.5,326v5M308,327.5h5M310.5,325v5M311,326.5h5M313.5,324v5M323,334.5h5M325.5,332v5M311,330.5h5M313.5,328v5M318,326.5h5M320.5,324v5M312,327.5h5M314.5,325v5M317,326.5h5M319.5,324v5M321,327.5h5M323.5,325v5M306,327.5h5M308.5,325v5M306,334.5h5M308.5,332v5M315,323.5h5M317.5,321v5M297,337.5h5M299.5,335v5M307,338.5h5M309.5,336v5M299,333.5h5M301.5,331v5M305,337.5h5M307.5,335v5M302,333.5h5M304.5,331v5M309,331.5h5M311.5,329v5M304,339.5h5M306.5,337v5M307,334.5h5M309.5,332v5M304,340.5h5M306.5,338v5M305,341.5h5M307.5,339v5M307,340.5h5M309.5,338v5M306,337.5h5M308.5,335v5M274,354.5h5M276.5,352v5M278,341.5h5M280.5,339v5M254,347.5h5M256.5,345v5M254,346.5h5M256.5,344v5M262,343.5h5M264.5,341v5M249,340.5h5M251.5,338v5M266,344.5h5M268.5,342v5M269,347.5h5M271.5,345v5M253,348.5h5M255.5,346v5M263,344.5h5M265.5,342v5M263,344.5h5M265.5,342v5" stroke="#80ff78" stroke-width="1" fill="none"/>
<path d="M278,343.5h5M280.5,341v5M250,340.5h5M252.5,338v5M264,348.5h5M266.5,346v5M262,346.5h5M264.5,344v5M274,341.5h5M276.5,339v5M276,340.5h5M278.5,338v5M250,346.5h5M252.5,344v5M255,340.5h5M257.5,338v5M264,343.5h5M266.5,341v5M258,350.5h5M260.5,348v5M259,338.5h5M261.5,336v5M270,344.5h5M272.5,342v5M262,358.5h5M264.5,356v5M265,339.5h5M267.5,337v5M277,347.5h5M279.5,345v5M253,343.5h5M255.5,341v5M264,343.5h5M266.5,341v5M261,347.5h5M263.5,345v5M257,337.5h5M259.5,335v5M253,335.5h5M255.5,333v5M234,335.5h5M236.5,333v5M237,335.5h5M239.5,333v5M237,332.5h5M239.5,330v5M234,330.5h5M236.5,328v5M235,335.5h5M237.5,333v5M231,337.5h5M233.5,335v5M239,340.5h5M241.5,338v5M240,339.5h5M242.5,337v5M236,336.5h5M238.5,334v5M237,342.5h5M239.5,340v5" stroke="#50ffaa" stroke-width="1" fill="none"/>
<path d="M326.75,325a1.75,1.75 0 1,0 3.5,0a1.75,1.75 0 1,0 -3.5,0M331.25,323a1.75,1.75 0 1,0 3.5,0a1.75,1.75 0 1,0 -3.5,0M331.75,323a1.75,1.75 0 1,0 3.5,0a1.75,1.75 0 1,0 -3.5,0M336.25,333a1.75,1.75 0 1,0 3.5,0a1.75,1.75 0 1,0 -3.5,0M345.25,330a1.75,1.75 0 1,0 3.5,0a1.75,1.75 0 1,0 -3.5,0M344.25,327a1.75,1.75 0 1,0 3.5,0a1.75,1.75 0 1,0 -3.5,0M334.75,328.5a1.75,1.75 0 1,0 3.5,0a1.75,1.75 0 1,0 -3.5,0M327.75,327.5a1.75,1.75 0 1,0 3.5,0a1.75,1.75 0 1,0 -3.5,0M328.75,326.5a1.75,1.75 0 1,0 3.5,0a1.75,1.75 0 1,0 -3.5,0M337.25,322a1.75,1.75 0 1,0 3.5,0a1.75,1.75 0 1,0 -3.5,0M332.75,323.5a1.75,1.75 0 1,0 3.5,0a1.75,1.75 0 1,0 -3.5,0M329.75,326a1.75,1.75 0 1,0 3.5,0a1.75,1.75 0 1,0 -3.5,0M323.75,326.5a1.75,1.75 0 1,0 3.5,0a1.75,1.75 0 1,0 -3.5,0M329.25,340a1.75,1.75 0 1,0 3.5,0a1.75,1.75 0 1,0 -3.5,0M338.75,326.5a1.75,1.75 0 1,0 3.5,0a1.75,1.75 0 1,0 -3.5,0M329.75,324.5a1.75,1.75 0 1,0 3.5,0a1.75,1.75 0 1,0 -3.5,0M327.75,320.5a1.75,1.75 0 1,0 3.5,0a1.75,1.75 0 1,0 -3.5,0M314.75,323a1.75,1.75 0 1,0 3.5,0a1.75,1.75 0 1,0 -3.5,0M347.75,320a1.75,1.75 0 1,0 3.5,0a1.75,1.75 0 1,0 -3.5,0M330.25,323.5a1.75,1.75 0 1,0 3.5,0a1.75,1.75 0 1,0 -3.5,0M330.25,328a1.75,1.75 0 1,0 3.5,0a1.75,1.75 0 1,0 -3.5,0M359.25,339a1.75,1.75 0 1,0 3.5,0a1.75,1.75 0 1,0 -3.5,0M354.75,332a1.75,1.75 0 1,0 3.5,0a1.75,1.75 0 1,0 -3.5,0M356.25,328.5a1.75,1.75 0 1,0 3.5,0a1.75,1.75 0 1,0 -3.5,0M355.25,329a1.75,1.75 0 1,0 3.5,0a1.75,1.75 0 1,0 -3.5,0M353.25,333.5a1.75,1.75 0 1,0 3.5,0a1.75,1.75 0 1,0 -3.5,0M348.75,328a1.75,1.75 0 1,0 3.5,0a1.75,1.75 0 1,0 -3.5,0M352.25,332a1.75,1.75 0 1,0 3.5,0a1.75,1.75 0 1,0 -3.5,0M351.25,331a1.75,1.75 0 1,0 3.5,0a1.75,1.75 0 1,0 -3.5,0M349.25,331.5a1.75,1.75 0 1,0 3.5,0a1.75,1.75 0 1,0 -3.5,0M354.75,334.5a1.75,1.75 0 1,0 3.5,0a1.75,1.75 0 1,0 -3.5,0M354.25,328.5a1.75,1.75 0 1,0 3.5,0a1.75,1.75 0 1,0 -3.5,0M357.75,331.5a1.75,1.75 0 1,0 3.5,0a1.75,1.75 0 1,0 -3.5,0M346.25,327.5a1.75,1.75 0 1,0 3.5,0a1.75,1.75 0 1,0 -3.5,0M349.75,327a1.75,1.75 0 1,0 3.5,0a1.75,1.75 0 1,0 -3.5,0M354.25,336a1.75,1.75 0 1,0 3.5,0a1.75,1.75 0 1,0 -3.5,0M342.75,332.5a1.75,1.75 0 1,0 3.5,0a1.75,1.75 0 1,0 -3.5,0M345.25,333a1.75,1.75 0 1,0 3.5,0a1.75,1.75 0 1,0 -3.5,0M354.25,328.5a1.75,1.75 0 1,0 3.5,0a1.75,1.75 0 1,0 -3.5,0M343.75,335a1.75,1.75 0 1,0 3.5,0a1.75,1.75 0 1,0 -3.5,0M360.25,326.5a1.75,1.75 0 1,0 3.5,0a1.75,1.75 0 1,0 -3.5,0M355.25,335a1.75,1.75 0 1,0 3.5,0a1.75,1.75 0 1,0 -3.5,0M345.25,333a1.75,1.75 0 1,0 3.5,0a1.75,1.75 0 1,0 -3.5,0M359.25,336.5a1.75,1.75 0 1,0 3.5,0a1.75,1.75 0 1,0 -3.5,0M354.25,333.5a1.75,1.75 0 1,0 3.5,0a1.75,1.75 0 1,0 -3.5,0M345.25,348a1.75,1.75 0 1,0 3.5,0a1.75,1.75 0 1,0 -3.5,0M337.75,343.5a1.75,1.75 0 1,0 3.5,0a1.75,1.75 0 1,0 -3.5,0M349.75,346a1.75,1.75 0 1,0 3.5,0a1.75,1.75 0 1,0 -3.5,0M345.25,346.5a1.75,1.75 0 1,0 3.5,0a1.75,1.75 0 1,0 -3.5,0M344.25,347.5a1.75,1.75 0 1,0 3.5,0a1.75,1.75 0 1,0 -3.5,0M349.75,349.5a1.75,1.75 0 1,0 3.5,0a1.75,1.75 0 1,0 -3.5,0M356.75,348.5a1.75,1.75 0 1,0 3.5,0a1.75,1.75 0 1,0 -3.5,0M353.25,347.5a1.75,1.75 0 1,0 3.5,0a1.75,1.75 0 1,0 -3.5,0M350.25,350.5a1.75,1.75 0 1,0 3.5,0a1.75,1.75 0 1,0 -3.5,0M350.25,341.5a1.75,1.75 0 1,0 3.5,0a1.75,1.75 0 1,0 -3.5,0M351.25,348.5a1.75,1.75 0 1,0 3.5,0a1.75,1.75 0 1,0 -3.5,0M354.25,342.5a1.75,1.75 0 1,0 3.5,0a1.75,1.75 0 1,0 -3.5,0M345.25,346a1.75,1.75 0 1,0 3.5,0a1.75,1.75 0 1,0 -3.5,0M349.75,346a1.75,1.75 0 1,0 3.5,0a1.75,1.75 0 1,0 -3.5,0M357.25,325a1.75,1.75 0 1,0 3.5,0a1.75,1.75 0 1,0 -3.5,0M350.25,322a1.75,1.75 0 1,0 3.5,0a1.75,1.75 0 1,0 -3.5,0M346.25,321a1.75,1.75 0 1,0 3.5,0a1.75,1.75 0 1,0 -3.5,0M354.25,326a1.75,1.75 0 1,0 3.5,0a1.75,1.75 0 1,0 -3.5,0M351.25,323.5a1.75,1.75 0 1,0 3.5,0a1.75,1.75 0 1,0 -3.5,0M351.25,322a1.75,1.75 0 1,0 3.5,0a1.75,1.75 0 1,0 -3.5,0M353.75,324a1.75,1.75 0 1,0 3.5,0a1.75,1.75 0 1,0 -3.5,0M363.25,323.5a1.75,1.75 0 1,0 3.5,0a1.75,1.75 0 1,0 -3.5,0M355.75,326a1.75,1.75 0 1,0 3.5,0a1.75,1.75 0 1,0 -3.5,0M358.75,323a1.75,1.75 0 1,0 3.5,0a1.75,1.75 0 1,0 -3.5,0M357.25,329.5a1.75,1.75 0 1,0 3.5,0a1.75,1.75 0 1,0 -3.5,0M361.75,326a1.75,1.75 0 1,0 3.5,0a1.75,1.75 0 1,0 -3.5,0M343.25,325a1.75,1.75 0 1,0 3.5,0a1.75,1.75 0 1,0 -3.5,0M355.75,330.5a1.75,1.75 0 1,0 3.5,0a1.75,1.75 0 1,0 -3.5,0" stroke="#ccf52a" stroke-width="1.05" fill="none"/>
<path d="M328.75,324.5a1.75,1.75 0 1,0 3.5,0a1.75,1.75 0 1,0 -3.5,0M317.75,324a1.75,1.75 0 1,0 3.5,0a1.75,1.75 0 1,0 -3.5,0M326.75,319.5a1.75,1.75 0 1,0 3.5,0a1.75,1.75 0 1,0 -3.5,0M329.75,324a1.75,1.75 0 1,0 3.5,0a1.75,1.75 0 1,0 -3.5,0M332.25,321a1.75,1.75 0 1,0 3.5,0a1.75,1.75 0 1,0 -3.5,0M326.75,316.5a1.75,1.75 0 1,0 3.5,0a1.75,1.75 0 1,0 -3.5,0M334.25,333a1.75,1.75 0 1,0 3.5,0a1.75,1.75 0 1,0 -3.5,0M334.25,325a1.75,1.75 0 1,0 3.5,0a1.75,1.75 0 1,0 -3.5,0M333.25,330.5a1.75,1.75 0 1,0 3.5,0a1.75,1.75 0 1,0 -3.5,0M319.25,333a1.75,1.75 0 1,0 3.5,0a1.75,1.75 0 1,0 -3.5,0M326.75,329a1.75,1.75 0 1,0 3.5,0a1.75,1.75 0 1,0 -3.5,0M333.25,333a1.75,1.75 0 1,0 3.5,0a1.75,1.75 0 1,0 -3.5,0M325.75,314a1.75,1.75 0 1,0 3.5,0a1.75,1.75 0 1,0 -3.5,0M335.75,323.5a1.75,1.75 0 1,0 3.5,0a1.75,1.75 0 1,0 -3.5,0M320.75,319a1.75,1.75 0 1,0 3.5,0a1.75,1.75 0 1,0 -3.5,0M324.25,318a1.75,1.75 0 1,0 3.5,0a1.75,1.75 0 1,0 -3.5,0M323.75,330a1.75,1.75 0 1,0 3.5,0a1.75,1.75 0 1,0 -3.5,0M339.25,315.5a1.75,1.75 0 1,0 3.5,0a1.75,1.75 0 1,0 -3.5,0M342.25,331.5a1.75,1.75 0 1,0 3.5,0a1.75,1.75 0 1,0 -3.5,0M332.25,322a1.75,1.75 0 1,0 3.5,0a1.75,1.75 0 1,0 -3.5,0M321.25,315.5a1.75,1.75 0 1,0 3.5,0a1.75,1.75 0 1,0 -3.5,0M338.75,334a1.75,1.75 0 1,0 3.5,0a1.75,1.75 0 1,0 -3.5,0M328.25,327.5a1.75,1.75 0 1,0 3.5,0a1.75,1.75 0 1,0 -3.5,0M323.75,319.5a1.75,1.75 0 1,0 3.5,0a1.75,1.75 0 1,0 -3.5,0M322.75,320.5a1.75,1.75 0 1,0 3.5,0a1.75,1.75 0 1,0 -3.5,0M334.25,315a1.75,1.75 0 1,0 3.5,0a1.75,1.75 0 1,0 -3.5,0M326.75,319a1.75,1.75 0 1,0 3.5,0a1.75,1.75 0 1,0 -3.5,0M333.75,331.5a1.75,1.75 0 1,0 3.5,0a1.75,1.75 0 1,0 -3.5,0M317.25,326.5a1.75,1.75 0 1,0 3.5,0a1.75,1.75 0 1,0 -3.5,0M335.25,315.5a1.75,1.75 0 1,0 3.5,0a1.75,1.75 0 1,0 -3.5,0M333.75,321.5a1.75,1.75 0 1,0 3.5,0a1.75,1.75 0 1,0 -3.5,0M329.25,320.5a1.75,1.75 0 1,0 3.5,0a1.75,1.75 0 1,0 -3.5,0M327.75,332.5a1.75,1.75 0 1,0 3.5,0a1.75,1.75 0 1,0 -3.5,0M335.75,317.5a1.75,1.75 0 1,0 3.5,0a1.75,1.75 0 1,0 -3.5,0M341.75,337a1.75,1.75 0 1,0 3.5,0a1.75,1.75 0 1,0 -3.5,0M355.75,339.5a1.75,1.75 0 1,0 3.5,0a1.75,1.75 0 1,0 -3.5,0M347.75,322.5a1.75,1.75 0 1,0 3.5,0a1.75,1.75 0 1,0 -3.5,0M352.25,332.5a1.75,1.75 0 1,0 3.5,0a1.75,1.75 0 1,0 -3.5,0M344.25,332a1.75,1.75 0 1,0 3.5,0a1.75,1.75 0 1,0 -3.5,0M353.25,333.5a1.75,1.75 0 1,0 3.5,0a1.75,1.75 0 1,0 -3.5,0M367.25,332a1.75,1.75 0 1,0 3.5,0a1.75,1.75 0 1,0 -3.5,0M352.75,331a1.75,1.75 0 1,0 3.5,0a1.75,1.75 0 1,0 -3.5,0M346.25,334a1.75,1.75 0 1,0 3.5,0a1.75,1.75 0 1,0 -3.5,0M353.75,331.5a1.75,1.75 0 1,0 3.5,0a1.75,1.75 0 1,0 -3.5,0M286.25,343a1.75,1.75 0 1,0 3.5,0a1.75,1.75 0 1,0 -3.5,0M287.25,347.5a1.75,1.75 0 1,0 3.5,0a1.75,1.75 0 1,0 -3.5,0M281.25,346a1.75,1.75 0 1,0 3.5,0a1.75,1.75 0 1,0 -3.5,0M287.25,344a1.75,1.75 0 1,0 3.5,0a1.75,1.75 0 1,0 -3.5,0M289.75,346.5a1.75,1.75 0 1,0 3.5,0a1.75,1.75 0 1,0 -3.5,0M290.25,343.5a1.75,1.75 0 1,0 3.5,0a1.75,1.75 0 1,0 -3.5,0M322.75,332a1.75,1.75 0 1,0 3.5,0a1.75,1.75 0 1,0 -3.5,0M316.75,334.5a1.75,1.75 0 1,0 3.5,0a1.75,1.75 0 1,0 -3.5,0M324.75,325a1.75,1.75 0 1,0 3.5,0a1.75,1.75 0 1,0 -3.5,0M324.75,324a1.75,1.75 0 1,0 3.5,0a1.75,1.75 0 1,0 -3.5,0M328.75,331.5a1.75,1.75 0 1,0 3.5,0a1.75,1.75 0 1,0 -3.5,0M318.75,335a1.75,1.75 0 1,0 3.5,0a1.75,1.75 0 1,0 -3.5,0M320.75,334.5a1.75,1.75 0 1,0 3.5,0a1.75,1.75 0 1,0 -3.5,0M316.75,336a1.75,1.75 0 1,0 3.5,0a1.75,1.75 0 1,0 -3.5,0M326.75,326a1.75,1.75 0 1,0 3.5,0a1.75,1.75 0 1,0 -3.5,0M326.75,336.5a1.75,1.75 0 1,0 3.5,0a1.75,1.75 0 1,0 -3.5,0M316.75,324.5a1.75,1.75 0 1,0 3.5,0a1.75,1.75 0 1,0 -3.5,0M318.25,325.5a1.75,1.75 0 1,0 3.5,0a1.75,1.75 0 1,0 -3.5,0M332.25,327.5a1.75,1.75 0 1,0 3.5,0a1.75,1.75 0 1,0 -3.5,0M316.75,319.5a1.75,1.75 0 1,0 3.5,0a1.75,1.75 0 1,0 -3.5,0M323.75,318a1.75,1.75 0 1,0 3.5,0a1.75,1.75 0 1,0 -3.5,0M323.75,324a1.75,1.75 0 1,0 3.5,0a1.75,1.75 0 1,0 -3.5,0M323.75,338.5a1.75,1.75 0 1,0 3.5,0a1.75,1.75 0 1,0 -3.5,0M333.75,330a1.75,1.75 0 1,0 3.5,0a1.75,1.75 0 1,0 -3.5,0M316.75,319.5a1.75,1.75 0 1,0 3.5,0a1.75,1.75 0 1,0 -3.5,0M328.25,326.5a1.75,1.75 0 1,0 3.5,0a1.75,1.75 0 1,0 -3.5,0M329.75,329.5a1.75,1.75 0 1,0 3.5,0a1.75,1.75 0 1,0 -3.5,0M325.25,330a1.75,1.75 0 1,0 3.5,0a1.75,1.75 0 1,0 -3.5,0M326.25,332.5a1.75,1.75 0 1,0 3.5,0a1.75,1.75 0 1,0 -3.5,0M316.75,323.5a1.75,1.75 0 1,0 3.5,0a1.75,1.75 0 1,0 -3.5,0M331.25,316.5a1.75,1.75 0 1,0 3.5,0a1.75,1.75 0 1,0 -3.5,0M324.25,329a1.75,1.75 0 1,0 3.5,0a1.75,1.75 0 1,0 -3.5,0M324.75,325a1.75,1.75 0 1,0 3.5,0a1.75,1.75 0 1,0 -3.5,0M330.25,321a1.75,1.75 0 1,0 3.5,0a1.75,1.75 0 1,0 -3.5,0M316.75,325a1.75,1.75 0 1,0 3.5,0a1.75,1.75 0 1,0 -3.5,0M364.25,325a1.75,1.75 0 1,0 3.5,0a1.75,1.75 0 1,0 -3.5,0M351.75,322a1.75,1.75 0 1,0 3.5,0a1.75,1.75 0 1,0 -3.5,0M353.25,325.5a1.75,1.75 0 1,0 3.5,0a1.75,1.75 0 1,0 -3.5,0M357.75,328.5a1.75,1.75 0 1,0 3.5,0a1.75,1.75 0 1,0 -3.5,0M363.75,319a1.75,1.75 0 1,0 3.5,0a1.75,1.75 0 1,0 -3.5,0M358.75,322.5a1.75,1.75 0 1,0 3.5,0a1.75,1.75 0 1,0 -3.5,0M358.75,322a1.75,1.75 0 1,0 3.5,0a1.75,1.75 0 1,0 -3.5,0M358.25,324.5a1.75,1.75 0 1,0 3.5,0a1.75,1.75 0 1,0 -3.5,0M354.25,324.5a1.75,1.75 0 1,0 3.5,0a1.75,1.75 0 1,0 -3.5,0M307.25,336.5a1.75,1.75 0 1,0 3.5,0a1.75,1.75 0 1,0 -3.5,0M305.75,346a1.75,1.75 0 1,0 3.5,0a1.75,1.75 0 1,0 -3.5,0M309.25,338a1.75,1.75 0 1,0 3.5,0a1.75,1.75 0 1,0 -3.5,0M310.75,336a1.75,1.75 0 1,0 3.5,0a1.75,1.75 0 1,0 -3.5,0M311.25,342.5a1.75,1.75 0 1,0 3.5,0a1.75,1.75 0 1,0 -3.5,0M308.75,342.5a1.75,1.75 0 1,0 3.5,0a1.75,1.75 0 1,0 -3.5,0M307.75,346.5a1.75,1.75 0 1,0 3.5,0a1.75,1.75 0 1,0 -3.5,0M312.75,340.5a1.75,1.75 0 1,0 3.5,0a1.75,1.75 0 1,0 -3.5,0M316.75,343a1.75,1.75 0 1,0 3.5,0a1.75,1.75 0 1,0 -3.5,0M301.75,264.5a1.75,1.75 0 1,0 3.5,0a1.75,1.75 0 1,0 -3.5,0M336.75,283.5a1.75,1.75 0 1,0 3.5,0a1.75,1.75 0 1,0 -3.5,0M202.75,337a1.75,1.75 0 1,0 3.5,0a1.75,1.75 0 1,0 -3.5,0M227.25,337a1.75,1.75 0 1,0 3.5,0a1.75,1.75 0 1,0 -3.5,0M208.75,376a1.75,1.75 0 1,0 3.5,0a1.75,1.75 0 1,0 -3.5,0M245.25,398a1.75,1.75 0 1,0 3.5,0a1.75,1.75 0 1,0 -3.5,0M278.75,433.5a1.75,1.75 0 1,0 3.5,0a1.75,1.75 0 1,0 -3.5,0M269.75,449.5a1.75,1.75 0 1,0 3.5,0a1.75,1.75 0 1,0 -3.5,0M307.25,424a1.75,1.75 0 1,0 3.5,0a1.75,1.75 0 1,0 -3.5,0M328.75,400a1.75,1.75 0 1,0 3.5,0a1.75,1.75 0 1,0 -3.5,0M337.75,395a1.75,1.75 0 1,0 3.5,0a1.75,1.75 0 1,0 -3.5,0M344.75,393a1.75,1.75 0 1,0 3.5,0a1.75,1.75 0 1,0 -3.5,0M377.75,401a1.75,1.75 0 1,0 3.5,0a1.75,1.75 0 1,0 -3.5,0M400.75,401a1.75,1.75 0 1,0 3.5,0a1.75,1.75 0 1,0 -3.5,0M306.75,424a1.75,1.75 0 1,0 3.5,0a1.75,1.75 0 1,0 -3.5,0M328.75,469a1.75,1.75 0 1,0 3.5,0a1.75,1.75 0 1,0 -3.5,0M399.25,316a1.75,1.75 0 1,0 3.5,0a1.75,1.75 0 1,0 -3.5,0M369.25,319a1.75,1.75 0 1,0 3.5,0a1.75,1.75 0 1,0 -3.5,0M362.25,324a1.75,1.75 0 1,0 3.5,0a1.75,1.75 0 1,0 -3.5,0M362.75,330a1.75,1.75 0 1,0 3.5,0a1.75,1.75 0 1,0 -3.5,0M368.25,331a1.75,1.75 0 1,0 3.5,0a1.75,1.75 0 1,0 -3.5,0M413.25,328a1.75,1.75 0 1,0 3.5,0a1.75,1.75 0 1,0 -3.5,0M369.25,364a1.75,1.75 0 1,0 3.5,0a1.75,1.75 0 1,0 -3.5,0M367.25,374a1.75,1.75 0 1,0 3.5,0a1.75,1.75 0 1,0 -3.5,0M369.25,414a1.75,1.75 0 1,0 3.5,0a1.75,1.75 0 1,0 -3.5,0M328.25,297a1.75,1.75 0 1,0 3.5,0a1.75,1.75 0 1,0 -3.5,0M338.25,301a1.75,1.75 0 1,0 3.5,0a1.75,1.75 0 1,0 -3.5,0M341.25,303a1.75,1.75 0 1,0 3.5,0a1.75,1.75 0 1,0 -3.5,0M307.25,305.5a1.75,1.75 0 1,0 3.5,0a1.75,1.75 0 1,0 -3.5,0M316.25,305.5a1.75,1.75 0 1,0 3.5,0a1.75,1.75 0 1,0 -3.5,0M319.25,305.5a1.75,1.75 0 1,0 3.5,0a1.75,1.75 0 1,0 -3.5,0M333.25,309a1.75,1.75 0 1,0 3.5,0a1.75,1.75 0 1,0 -3.5,0M347.25,309a1.75,1.75 0 1,0 3.5,0a1.75,1.75 0 1,0 -3.5,0M350.25,309a1.75,1.75 0 1,0 3.5,0a1.75,1.75 0 1,0 -3.5,0M343.25,311.5a1.75,1.75 0 1,0 3.5,0a1.75,1.75 0 1,0 -3.5,0M302.25,314a1.75,1.75 0 1,0 3.5,0a1.75,1.75 0 1,0 -3.5,0M261.75,329a1.75,1.75 0 1,0 3.5,0a1.75,1.75 0 1,0 -3.5,0M280.75,339a1.75,1.75 0 1,0 3.5,0a1.75,1.75 0 1,0 -3.5,0M292.25,332.5a1.75,1.75 0 1,0 3.5,0a1.75,1.75 0 1,0 -3.5,0M294.75,326.5a1.75,1.75 0 1,0 3.5,0a1.75,1.75 0 1,0 -3.5,0M292.25,303a1.75,1.75 0 1,0 3.5,0a1.75,1.75 0 1,0 -3.5,0M292.25,312a1.75,1.75 0 1,0 3.5,0a1.75,1.75 0 1,0 -3.5,0M302.25,355a1.75,1.75 0 1,0 3.5,0a1.75,1.75 0 1,0 -3.5,0M305.25,359a1.75,1.75 0 1,0 3.5,0a1.75,1.75 0 1,0 -3.5,0M315.25,358a1.75,1.75 0 1,0 3.5,0a1.75,1.75 0 1,0 -3.5,0M326.25,360a1.75,1.75 0 1,0 3.5,0a1.75,1.75 0 1,0 -3.5,0M328.25,352a1.75,1.75 0 1,0 3.5,0a1.75,1.75 0 1,0 -3.5,0M330.25,356a1.75,1.75 0 1,0 3.5,0a1.75,1.75 0 1,0 -3.5,0M317.25,346a1.75,1.75 0 1,0 3.5,0a1.75,1.75 0 1,0 -3.5,0M322.25,348a1.75,1.75 0 1,0 3.5,0a1.75,1.75 0 1,0 -3.5,0M324.25,346a1.75,1.75 0 1,0 3.5,0a1.75,1.75 0 1,0 -3.5,0M341.25,350a1.75,1.75 0 1,0 3.5,0a1.75,1.75 0 1,0 -3.5,0M347.25,352a1.75,1.75 0 1,0 3.5,0a1.75,1.75 0 1,0 -3.5,0M354.25,353a1.75,1.75 0 1,0 3.5,0a1.75,1.75 0 1,0 -3.5,0M359.25,348a1.75,1.75 0 1,0 3.5,0a1.75,1.75 0 1,0 -3.5,0M350.25,344a1.75,1.75 0 1,0 3.5,0a1.75,1.75 0 1,0 -3.5,0M356.25,365a1.75,1.75 0 1,0 3.5,0a1.75,1.75 0 1,0 -3.5,0M358.25,368a1.75,1.75 0 1,0 3.5,0a1.75,1.75 0 1,0 -3.5,0M369.25,364a1.75,1.75 0 1,0 3.5,0a1.75,1.75 0 1,0 -3.5,0M328.25,374a1.75,1.75 0 1,0 3.5,0a1.75,1.75 0 1,0 -3.5,0M344.25,373a1.75,1.75 0 1,0 3.5,0a1.75,1.75 0 1,0 -3.5,0M367.25,374a1.75,1.75 0 1,0 3.5,0a1.75,1.75 0 1,0 -3.5,0M353.25,381a1.75,1.75 0 1,0 3.5,0a1.75,1.75 0 1,0 -3.5,0M322.25,377a1.75,1.75 0 1,0 3.5,0a1.75,1.75 0 1,0 -3.5,0M328.25,383a1.75,1.75 0 1,0 3.5,0a1.75,1.75 0 1,0 -3.5,0M345.25,392.5a1.75,1.75 0 1,0 3.5,0a1.75,1.75 0 1,0 -3.5,0M350.25,392.5a1.75,1.75 0 1,0 3.5,0a1.75,1.75 0 1,0 -3.5,0M338.25,394.5a1.75,1.75 0 1,0 3.5,0a1.75,1.75 0 1,0 -3.5,0M359.25,396a1.75,1.75 0 1,0 3.5,0a1.75,1.75 0 1,0 -3.5,0M329.25,399a1.75,1.75 0 1,0 3.5,0a1.75,1.75 0 1,0 -3.5,0M270.25,358a1.75,1.75 0 1,0 3.5,0a1.75,1.75 0 1,0 -3.5,0M273.25,363a1.75,1.75 0 1,0 3.5,0a1.75,1.75 0 1,0 -3.5,0M268.25,353a1.75,1.75 0 1,0 3.5,0a1.75,1.75 0 1,0 -3.5,0M272.25,353a1.75,1.75 0 1,0 3.5,0a1.75,1.75 0 1,0 -3.5,0M277.25,355a1.75,1.75 0 1,0 3.5,0a1.75,1.75 0 1,0 -3.5,0M286.25,360a1.75,1.75 0 1,0 3.5,0a1.75,1.75 0 1,0 -3.5,0M287.25,353a1.75,1.75 0 1,0 3.5,0a1.75,1.75 0 1,0 -3.5,0M262.25,353a1.75,1.75 0 1,0 3.5,0a1.75,1.75 0 1,0 -3.5,0M302.25,355a1.75,1.75 0 1,0 3.5,0a1.75,1.75 0 1,0 -3.5,0" stroke="#b0f24a" stroke-width="1.05" fill="none"/>
<path d="M327.25,318a1.75,1.75 0 1,0 3.5,0a1.75,1.75 0 1,0 -3.5,0M328.25,327.5a1.75,1.75 0 1,0 3.5,0a1.75,1.75 0 1,0 -3.5,0M326.75,316.5a1.75,1.75 0 1,0 3.5,0a1.75,1.75 0 1,0 -3.5,0M327.25,327a1.75,1.75 0 1,0 3.5,0a1.75,1.75 0 1,0 -3.5,0M321.25,335.5a1.75,1.75 0 1,0 3.5,0a1.75,1.75 0 1,0 -3.5,0M331.25,332.5a1.75,1.75 0 1,0 3.5,0a1.75,1.75 0 1,0 -3.5,0M331.25,314a1.75,1.75 0 1,0 3.5,0a1.75,1.75 0 1,0 -3.5,0M318.75,327.5a1.75,1.75 0 1,0 3.5,0a1.75,1.75 0 1,0 -3.5,0M331.75,329a1.75,1.75 0 1,0 3.5,0a1.75,1.75 0 1,0 -3.5,0M321.75,325a1.75,1.75 0 1,0 3.5,0a1.75,1.75 0 1,0 -3.5,0M345.75,316.5a1.75,1.75 0 1,0 3.5,0a1.75,1.75 0 1,0 -3.5,0M325.25,328a1.75,1.75 0 1,0 3.5,0a1.75,1.75 0 1,0 -3.5,0M332.75,321a1.75,1.75 0 1,0 3.5,0a1.75,1.75 0 1,0 -3.5,0M335.75,320.5a1.75,1.75 0 1,0 3.5,0a1.75,1.75 0 1,0 -3.5,0M327.25,323a1.75,1.75 0 1,0 3.5,0a1.75,1.75 0 1,0 -3.5,0M337.75,322a1.75,1.75 0 1,0 3.5,0a1.75,1.75 0 1,0 -3.5,0M325.75,316a1.75,1.75 0 1,0 3.5,0a1.75,1.75 0 1,0 -3.5,0M327.25,310.5a1.75,1.75 0 1,0 3.5,0a1.75,1.75 0 1,0 -3.5,0M327.25,309a1.75,1.75 0 1,0 3.5,0a1.75,1.75 0 1,0 -3.5,0M321.25,330.5a1.75,1.75 0 1,0 3.5,0a1.75,1.75 0 1,0 -3.5,0M318.25,322a1.75,1.75 0 1,0 3.5,0a1.75,1.75 0 1,0 -3.5,0M331.75,331.5a1.75,1.75 0 1,0 3.5,0a1.75,1.75 0 1,0 -3.5,0M321.75,321a1.75,1.75 0 1,0 3.5,0a1.75,1.75 0 1,0 -3.5,0M324.25,326.5a1.75,1.75 0 1,0 3.5,0a1.75,1.75 0 1,0 -3.5,0M322.25,327a1.75,1.75 0 1,0 3.5,0a1.75,1.75 0 1,0 -3.5,0M321.25,320.5a1.75,1.75 0 1,0 3.5,0a1.75,1.75 0 1,0 -3.5,0M327.25,336a1.75,1.75 0 1,0 3.5,0a1.75,1.75 0 1,0 -3.5,0M319.75,325.5a1.75,1.75 0 1,0 3.5,0a1.75,1.75 0 1,0 -3.5,0M328.25,326.5a1.75,1.75 0 1,0 3.5,0a1.75,1.75 0 1,0 -3.5,0M320.75,329.5a1.75,1.75 0 1,0 3.5,0a1.75,1.75 0 1,0 -3.5,0M321.25,330.5a1.75,1.75 0 1,0 3.5,0a1.75,1.75 0 1,0 -3.5,0M365.25,326.5a1.75,1.75 0 1,0 3.5,0a1.75,1.75 0 1,0 -3.5,0M347.75,327.5a1.75,1.75 0 1,0 3.5,0a1.75,1.75 0 1,0 -3.5,0M355.75,323.5a1.75,1.75 0 1,0 3.5,0a1.75,1.75 0 1,0 -3.5,0M354.25,324a1.75,1.75 0 1,0 3.5,0a1.75,1.75 0 1,0 -3.5,0M357.75,325.5a1.75,1.75 0 1,0 3.5,0a1.75,1.75 0 1,0 -3.5,0M352.25,325a1.75,1.75 0 1,0 3.5,0a1.75,1.75 0 1,0 -3.5,0M356.75,326.5a1.75,1.75 0 1,0 3.5,0a1.75,1.75 0 1,0 -3.5,0M307.25,347a1.75,1.75 0 1,0 3.5,0a1.75,1.75 0 1,0 -3.5,0M309.25,337.5a1.75,1.75 0 1,0 3.5,0a1.75,1.75 0 1,0 -3.5,0M311.75,342a1.75,1.75 0 1,0 3.5,0a1.75,1.75 0 1,0 -3.5,0M306.25,343a1.75,1.75 0 1,0 3.5,0a1.75,1.75 0 1,0 -3.5,0M310.75,342a1.75,1.75 0 1,0 3.5,0a1.75,1.75 0 1,0 -3.5,0M308.25,344.5a1.75,1.75 0 1,0 3.5,0a1.75,1.75 0 1,0 -3.5,0" stroke="#94f462" stroke-width="1.05" fill="none"/>
<path d="M339.75,333.5a1.75,1.75 0 1,0 3.5,0a1.75,1.75 0 1,0 -3.5,0M358.25,337a1.75,1.75 0 1,0 3.5,0a1.75,1.75 0 1,0 -3.5,0M340.75,337.5a1.75,1.75 0 1,0 3.5,0a1.75,1.75 0 1,0 -3.5,0M362.25,331a1.75,1.75 0 1,0 3.5,0a1.75,1.75 0 1,0 -3.5,0M354.75,330.5a1.75,1.75 0 1,0 3.5,0a1.75,1.75 0 1,0 -3.5,0M343.25,326a1.75,1.75 0 1,0 3.5,0a1.75,1.75 0 1,0 -3.5,0M336.25,348.5a1.75,1.75 0 1,0 3.5,0a1.75,1.75 0 1,0 -3.5,0M346.75,347a1.75,1.75 0 1,0 3.5,0a1.75,1.75 0 1,0 -3.5,0M352.75,346.5a1.75,1.75 0 1,0 3.5,0a1.75,1.75 0 1,0 -3.5,0M341.75,347a1.75,1.75 0 1,0 3.5,0a1.75,1.75 0 1,0 -3.5,0M349.75,345.5a1.75,1.75 0 1,0 3.5,0a1.75,1.75 0 1,0 -3.5,0M338.75,345.5a1.75,1.75 0 1,0 3.5,0a1.75,1.75 0 1,0 -3.5,0M338.75,352.5a1.75,1.75 0 1,0 3.5,0a1.75,1.75 0 1,0 -3.5,0M349.75,340.5a1.75,1.75 0 1,0 3.5,0a1.75,1.75 0 1,0 -3.5,0M336.25,350a1.75,1.75 0 1,0 3.5,0a1.75,1.75 0 1,0 -3.5,0M350.25,344.5a1.75,1.75 0 1,0 3.5,0a1.75,1.75 0 1,0 -3.5,0M338.75,344.5a1.75,1.75 0 1,0 3.5,0a1.75,1.75 0 1,0 -3.5,0M361.75,263.5a1.75,1.75 0 1,0 3.5,0a1.75,1.75 0 1,0 -3.5,0M307.25,399a1.75,1.75 0 1,0 3.5,0a1.75,1.75 0 1,0 -3.5,0M306.75,460.5a1.75,1.75 0 1,0 3.5,0a1.75,1.75 0 1,0 -3.5,0M340.75,393a1.75,1.75 0 1,0 3.5,0a1.75,1.75 0 1,0 -3.5,0M349.75,392.5a1.75,1.75 0 1,0 3.5,0a1.75,1.75 0 1,0 -3.5,0M351.75,395a1.75,1.75 0 1,0 3.5,0a1.75,1.75 0 1,0 -3.5,0M344.75,398.5a1.75,1.75 0 1,0 3.5,0a1.75,1.75 0 1,0 -3.5,0M346.25,401a1.75,1.75 0 1,0 3.5,0a1.75,1.75 0 1,0 -3.5,0M360.25,395.5a1.75,1.75 0 1,0 3.5,0a1.75,1.75 0 1,0 -3.5,0M358.75,398a1.75,1.75 0 1,0 3.5,0a1.75,1.75 0 1,0 -3.5,0M377.75,395.5a1.75,1.75 0 1,0 3.5,0a1.75,1.75 0 1,0 -3.5,0M340.75,405a1.75,1.75 0 1,0 3.5,0a1.75,1.75 0 1,0 -3.5,0M353.75,405.5a1.75,1.75 0 1,0 3.5,0a1.75,1.75 0 1,0 -3.5,0M365.75,405.5a1.75,1.75 0 1,0 3.5,0a1.75,1.75 0 1,0 -3.5,0M356.75,413a1.75,1.75 0 1,0 3.5,0a1.75,1.75 0 1,0 -3.5,0M362.75,414a1.75,1.75 0 1,0 3.5,0a1.75,1.75 0 1,0 -3.5,0M365.25,414a1.75,1.75 0 1,0 3.5,0a1.75,1.75 0 1,0 -3.5,0M368.75,413.5a1.75,1.75 0 1,0 3.5,0a1.75,1.75 0 1,0 -3.5,0M319.75,426a1.75,1.75 0 1,0 3.5,0a1.75,1.75 0 1,0 -3.5,0M358.75,429a1.75,1.75 0 1,0 3.5,0a1.75,1.75 0 1,0 -3.5,0M324.75,439.5a1.75,1.75 0 1,0 3.5,0a1.75,1.75 0 1,0 -3.5,0M322.75,442a1.75,1.75 0 1,0 3.5,0a1.75,1.75 0 1,0 -3.5,0M338.75,444.5a1.75,1.75 0 1,0 3.5,0a1.75,1.75 0 1,0 -3.5,0M387.75,299a1.75,1.75 0 1,0 3.5,0a1.75,1.75 0 1,0 -3.5,0M412.25,309a1.75,1.75 0 1,0 3.5,0a1.75,1.75 0 1,0 -3.5,0M361.75,318a1.75,1.75 0 1,0 3.5,0a1.75,1.75 0 1,0 -3.5,0M364.25,319a1.75,1.75 0 1,0 3.5,0a1.75,1.75 0 1,0 -3.5,0M379.25,330a1.75,1.75 0 1,0 3.5,0a1.75,1.75 0 1,0 -3.5,0M372.25,336a1.75,1.75 0 1,0 3.5,0a1.75,1.75 0 1,0 -3.5,0M380.25,336a1.75,1.75 0 1,0 3.5,0a1.75,1.75 0 1,0 -3.5,0M389.25,332.5a1.75,1.75 0 1,0 3.5,0a1.75,1.75 0 1,0 -3.5,0M388.25,336a1.75,1.75 0 1,0 3.5,0a1.75,1.75 0 1,0 -3.5,0M408.25,330a1.75,1.75 0 1,0 3.5,0a1.75,1.75 0 1,0 -3.5,0M360.25,337.5a1.75,1.75 0 1,0 3.5,0a1.75,1.75 0 1,0 -3.5,0M362.75,341a1.75,1.75 0 1,0 3.5,0a1.75,1.75 0 1,0 -3.5,0M369.25,341a1.75,1.75 0 1,0 3.5,0a1.75,1.75 0 1,0 -3.5,0M376.25,341a1.75,1.75 0 1,0 3.5,0a1.75,1.75 0 1,0 -3.5,0M362.75,347a1.75,1.75 0 1,0 3.5,0a1.75,1.75 0 1,0 -3.5,0M377.25,347a1.75,1.75 0 1,0 3.5,0a1.75,1.75 0 1,0 -3.5,0M371.25,356a1.75,1.75 0 1,0 3.5,0a1.75,1.75 0 1,0 -3.5,0M364.25,359a1.75,1.75 0 1,0 3.5,0a1.75,1.75 0 1,0 -3.5,0M361.75,368a1.75,1.75 0 1,0 3.5,0a1.75,1.75 0 1,0 -3.5,0M372.25,376a1.75,1.75 0 1,0 3.5,0a1.75,1.75 0 1,0 -3.5,0M366.25,381a1.75,1.75 0 1,0 3.5,0a1.75,1.75 0 1,0 -3.5,0M360.25,386a1.75,1.75 0 1,0 3.5,0a1.75,1.75 0 1,0 -3.5,0M359.25,388a1.75,1.75 0 1,0 3.5,0a1.75,1.75 0 1,0 -3.5,0M365.25,386a1.75,1.75 0 1,0 3.5,0a1.75,1.75 0 1,0 -3.5,0M364.75,388a1.75,1.75 0 1,0 3.5,0a1.75,1.75 0 1,0 -3.5,0M369.25,386a1.75,1.75 0 1,0 3.5,0a1.75,1.75 0 1,0 -3.5,0M381.25,388a1.75,1.75 0 1,0 3.5,0a1.75,1.75 0 1,0 -3.5,0M404.75,388a1.75,1.75 0 1,0 3.5,0a1.75,1.75 0 1,0 -3.5,0M360.25,396a1.75,1.75 0 1,0 3.5,0a1.75,1.75 0 1,0 -3.5,0M365.25,414a1.75,1.75 0 1,0 3.5,0a1.75,1.75 0 1,0 -3.5,0M341.25,295a1.75,1.75 0 1,0 3.5,0a1.75,1.75 0 1,0 -3.5,0M364.25,304a1.75,1.75 0 1,0 3.5,0a1.75,1.75 0 1,0 -3.5,0M376.25,301a1.75,1.75 0 1,0 3.5,0a1.75,1.75 0 1,0 -3.5,0M376.25,306a1.75,1.75 0 1,0 3.5,0a1.75,1.75 0 1,0 -3.5,0M358.75,308.5a1.75,1.75 0 1,0 3.5,0a1.75,1.75 0 1,0 -3.5,0M358.75,311.5a1.75,1.75 0 1,0 3.5,0a1.75,1.75 0 1,0 -3.5,0M358.75,316a1.75,1.75 0 1,0 3.5,0a1.75,1.75 0 1,0 -3.5,0M312.25,352a1.75,1.75 0 1,0 3.5,0a1.75,1.75 0 1,0 -3.5,0M312.25,355a1.75,1.75 0 1,0 3.5,0a1.75,1.75 0 1,0 -3.5,0M311.25,359a1.75,1.75 0 1,0 3.5,0a1.75,1.75 0 1,0 -3.5,0M311.25,361a1.75,1.75 0 1,0 3.5,0a1.75,1.75 0 1,0 -3.5,0M320.25,360a1.75,1.75 0 1,0 3.5,0a1.75,1.75 0 1,0 -3.5,0M323.75,353a1.75,1.75 0 1,0 3.5,0a1.75,1.75 0 1,0 -3.5,0M316.25,367a1.75,1.75 0 1,0 3.5,0a1.75,1.75 0 1,0 -3.5,0M335.25,350a1.75,1.75 0 1,0 3.5,0a1.75,1.75 0 1,0 -3.5,0M338.25,355a1.75,1.75 0 1,0 3.5,0a1.75,1.75 0 1,0 -3.5,0M336.25,353a1.75,1.75 0 1,0 3.5,0a1.75,1.75 0 1,0 -3.5,0M333.25,353a1.75,1.75 0 1,0 3.5,0a1.75,1.75 0 1,0 -3.5,0M342.25,345a1.75,1.75 0 1,0 3.5,0a1.75,1.75 0 1,0 -3.5,0M350.25,352a1.75,1.75 0 1,0 3.5,0a1.75,1.75 0 1,0 -3.5,0M356.25,346a1.75,1.75 0 1,0 3.5,0a1.75,1.75 0 1,0 -3.5,0M363.25,347a1.75,1.75 0 1,0 3.5,0a1.75,1.75 0 1,0 -3.5,0M356.25,341a1.75,1.75 0 1,0 3.5,0a1.75,1.75 0 1,0 -3.5,0M362.75,341a1.75,1.75 0 1,0 3.5,0a1.75,1.75 0 1,0 -3.5,0M369.25,341a1.75,1.75 0 1,0 3.5,0a1.75,1.75 0 1,0 -3.5,0M376.25,347a1.75,1.75 0 1,0 3.5,0a1.75,1.75 0 1,0 -3.5,0M371.25,356a1.75,1.75 0 1,0 3.5,0a1.75,1.75 0 1,0 -3.5,0M364.25,359a1.75,1.75 0 1,0 3.5,0a1.75,1.75 0 1,0 -3.5,0M355.25,360a1.75,1.75 0 1,0 3.5,0a1.75,1.75 0 1,0 -3.5,0M351.25,359a1.75,1.75 0 1,0 3.5,0a1.75,1.75 0 1,0 -3.5,0M347.25,358a1.75,1.75 0 1,0 3.5,0a1.75,1.75 0 1,0 -3.5,0M343.25,358a1.75,1.75 0 1,0 3.5,0a1.75,1.75 0 1,0 -3.5,0M340.25,358a1.75,1.75 0 1,0 3.5,0a1.75,1.75 0 1,0 -3.5,0M337.25,360a1.75,1.75 0 1,0 3.5,0a1.75,1.75 0 1,0 -3.5,0M333.25,362a1.75,1.75 0 1,0 3.5,0a1.75,1.75 0 1,0 -3.5,0M329.25,366a1.75,1.75 0 1,0 3.5,0a1.75,1.75 0 1,0 -3.5,0M333.25,365a1.75,1.75 0 1,0 3.5,0a1.75,1.75 0 1,0 -3.5,0M340.25,363a1.75,1.75 0 1,0 3.5,0a1.75,1.75 0 1,0 -3.5,0M343.25,363a1.75,1.75 0 1,0 3.5,0a1.75,1.75 0 1,0 -3.5,0M348.25,365a1.75,1.75 0 1,0 3.5,0a1.75,1.75 0 1,0 -3.5,0M351.25,366a1.75,1.75 0 1,0 3.5,0a1.75,1.75 0 1,0 -3.5,0M362.25,368a1.75,1.75 0 1,0 3.5,0a1.75,1.75 0 1,0 -3.5,0M328.25,370a1.75,1.75 0 1,0 3.5,0a1.75,1.75 0 1,0 -3.5,0M330.25,372.5a1.75,1.75 0 1,0 3.5,0a1.75,1.75 0 1,0 -3.5,0M334.25,375a1.75,1.75 0 1,0 3.5,0a1.75,1.75 0 1,0 -3.5,0M337.25,374a1.75,1.75 0 1,0 3.5,0a1.75,1.75 0 1,0 -3.5,0M340.25,371a1.75,1.75 0 1,0 3.5,0a1.75,1.75 0 1,0 -3.5,0M343.25,369a1.75,1.75 0 1,0 3.5,0a1.75,1.75 0 1,0 -3.5,0M348.25,371a1.75,1.75 0 1,0 3.5,0a1.75,1.75 0 1,0 -3.5,0M350.25,369a1.75,1.75 0 1,0 3.5,0a1.75,1.75 0 1,0 -3.5,0M346.25,375a1.75,1.75 0 1,0 3.5,0a1.75,1.75 0 1,0 -3.5,0M348.25,377a1.75,1.75 0 1,0 3.5,0a1.75,1.75 0 1,0 -3.5,0M350.25,378a1.75,1.75 0 1,0 3.5,0a1.75,1.75 0 1,0 -3.5,0M344.25,378a1.75,1.75 0 1,0 3.5,0a1.75,1.75 0 1,0 -3.5,0M340.25,378a1.75,1.75 0 1,0 3.5,0a1.75,1.75 0 1,0 -3.5,0M356.25,373a1.75,1.75 0 1,0 3.5,0a1.75,1.75 0 1,0 -3.5,0M372.25,376a1.75,1.75 0 1,0 3.5,0a1.75,1.75 0 1,0 -3.5,0M366.25,381a1.75,1.75 0 1,0 3.5,0a1.75,1.75 0 1,0 -3.5,0M356.25,380a1.75,1.75 0 1,0 3.5,0a1.75,1.75 0 1,0 -3.5,0M318.25,375.5a1.75,1.75 0 1,0 3.5,0a1.75,1.75 0 1,0 -3.5,0M321.25,374a1.75,1.75 0 1,0 3.5,0a1.75,1.75 0 1,0 -3.5,0M329.75,379a1.75,1.75 0 1,0 3.5,0a1.75,1.75 0 1,0 -3.5,0M330.25,381a1.75,1.75 0 1,0 3.5,0a1.75,1.75 0 1,0 -3.5,0M322.75,385a1.75,1.75 0 1,0 3.5,0a1.75,1.75 0 1,0 -3.5,0M327.75,386a1.75,1.75 0 1,0 3.5,0a1.75,1.75 0 1,0 -3.5,0M332.75,385a1.75,1.75 0 1,0 3.5,0a1.75,1.75 0 1,0 -3.5,0M341.25,386a1.75,1.75 0 1,0 3.5,0a1.75,1.75 0 1,0 -3.5,0M346.25,386a1.75,1.75 0 1,0 3.5,0a1.75,1.75 0 1,0 -3.5,0M342.25,389a1.75,1.75 0 1,0 3.5,0a1.75,1.75 0 1,0 -3.5,0M352.25,386a1.75,1.75 0 1,0 3.5,0a1.75,1.75 0 1,0 -3.5,0M355.25,386a1.75,1.75 0 1,0 3.5,0a1.75,1.75 0 1,0 -3.5,0M359.25,386a1.75,1.75 0 1,0 3.5,0a1.75,1.75 0 1,0 -3.5,0M358.75,388a1.75,1.75 0 1,0 3.5,0a1.75,1.75 0 1,0 -3.5,0M365.25,387a1.75,1.75 0 1,0 3.5,0a1.75,1.75 0 1,0 -3.5,0M369.25,386a1.75,1.75 0 1,0 3.5,0a1.75,1.75 0 1,0 -3.5,0M341.25,393a1.75,1.75 0 1,0 3.5,0a1.75,1.75 0 1,0 -3.5,0M352.25,394.5a1.75,1.75 0 1,0 3.5,0a1.75,1.75 0 1,0 -3.5,0M358.25,398a1.75,1.75 0 1,0 3.5,0a1.75,1.75 0 1,0 -3.5,0M345.25,398a1.75,1.75 0 1,0 3.5,0a1.75,1.75 0 1,0 -3.5,0M308.25,398.5a1.75,1.75 0 1,0 3.5,0a1.75,1.75 0 1,0 -3.5,0M377.25,396a1.75,1.75 0 1,0 3.5,0a1.75,1.75 0 1,0 -3.5,0M305.25,359.5a1.75,1.75 0 1,0 3.5,0a1.75,1.75 0 1,0 -3.5,0" stroke="#e6f200" stroke-width="1.05" fill="none"/>
<path d="M418.75,336a1.75,1.75 0 1,0 3.5,0a1.75,1.75 0 1,0 -3.5,0M355.75,350a1.75,1.75 0 1,0 3.5,0a1.75,1.75 0 1,0 -3.5,0" stroke="#ffe000" stroke-width="1.05" fill="none"/>
<line x1="298.5" y1="63.5" x2="298.5" y2="565.5" stroke="#000" stroke-width="1"/>
<line x1="47.5" y1="314.5" x2="549.5" y2="314.5" stroke="#000" stroke-width="1"/>
<polygon points="403.3,178.3 395.3,188.3 418.8,206.5 414.5,211.7 442.6,216.3 430.6,191.4 426.5,196.8" fill="none" stroke="#dcdcdc" stroke-width="1"/>
<polygon points="201.5,440.3 193.3,450.4 216.7,468.5 212.3,473.4 240.7,478.3 229.0,454.3 224.6,458.9" fill="none" stroke="#dcdcdc" stroke-width="1"/>
<polygon points="302.4,309.2 294.4,319.2 317.9,337.4 313.6,342.6 341.7,347.2 329.7,322.3 325.6,327.7" fill="none" stroke="#dcdcdc" stroke-width="1"/>
<!--MARKERS-->
<g font-family="Liberation Sans" font-weight="bold" font-size="12.5" fill="#000">
<text x="281.3" y="57" textLength="35.5" lengthAdjust="spacingAndGlyphs">North</text>
<text x="281.3" y="578" textLength="35.5" lengthAdjust="spacingAndGlyphs">South</text>
<text x="15.7" y="318" textLength="28" lengthAdjust="spacingAndGlyphs">West</text>
<text x="552.5" y="318" textLength="27.3" lengthAdjust="spacingAndGlyphs">East</text>
</g>
<g font-family="Liberation Mono" font-weight="bold" font-size="13.33" fill="#000" style="white-space:pre">
<text x="399.5" y="19" xml:space="preserve">STATION NAME    YYYY DATE  DDD HHMMSS AXN PPS IGP</text>
<text x="399.5" y="35.5" xml:space="preserve">Dourbes         2014 Nov12 316 041800 417 100 -8U</text>
</g>
<g font-family="Liberation Mono" font-size="11.67" fill="#000">
<text transform="translate(594.5,71) scale(1,1.08)" xml:space="preserve">Num of Sources</text>
<text transform="translate(790.5,71) scale(1,1.08)" text-anchor="end">725</text>
<text transform="translate(594.5,85) scale(1,1.08)" xml:space="preserve">Min Freq, kHz</text>
<text transform="translate(790.5,85) scale(1,1.08)" text-anchor="end">2500</text>
<text transform="translate(594.5,99) scale(1,1.08)" xml:space="preserve">Max Freq, kHz</text>
<text transform="translate(790.5,99) scale(1,1.08)" text-anchor="end">2850</text>
<text transform="translate(594.5,113) scale(1,1.08)" xml:space="preserve">Min Range, km</text>
<text transform="translate(790.5,113) scale(1,1.08)" text-anchor="end">280</text>
<text transform="translate(594.5,127) scale(1,1.08)" xml:space="preserve">Max Range, km</text>
<text transform="translate(790.5,127) scale(1,1.08)" text-anchor="end">692</text>
<text transform="translate(594.5,141) scale(1,1.08)" xml:space="preserve">Max Amp, dB</text>
<text transform="translate(790.5,141) scale(1,1.08)" text-anchor="end">65</text>
<text transform="translate(594.5,155) scale(1,1.08)" xml:space="preserve">Max SNR Amp, dB</text>
<text transform="translate(790.5,155) scale(1,1.08)" text-anchor="end">41</text>
<text transform="translate(594.5,169) scale(1,1.08)" xml:space="preserve">Min SNR Amp, dB</text>
<text transform="translate(790.5,169) scale(1,1.08)" text-anchor="end">12</text>
<text transform="translate(594.5,183) scale(1,1.08)" xml:space="preserve">Avg SNR Amp, dB</text>
<text transform="translate(790.5,183) scale(1,1.08)" text-anchor="end">20</text>
<text transform="translate(594.5,197) scale(1,1.08)" xml:space="preserve">Max RMS Err, deg</text>
<text transform="translate(790.5,197) scale(1,1.08)" text-anchor="end">12.0</text>
<text transform="translate(594.5,211) scale(1,1.08)" xml:space="preserve">Min RMS Err, deg</text>
<text transform="translate(790.5,211) scale(1,1.08)" text-anchor="end">0.0</text>
<text transform="translate(594.5,225) scale(1,1.08)" xml:space="preserve">Avg RMS Err, deg</text>
<text transform="translate(790.5,225) scale(1,1.08)" text-anchor="end">4.5</text>
<text transform="translate(594.5,239) scale(1,1.08)" xml:space="preserve">Doppler Res, Hz</text>
<text transform="translate(790.5,239) scale(1,1.08)" text-anchor="end">0.0488</text>
<text transform="translate(594.5,253) scale(1,1.08)" xml:space="preserve">CIT, sec</text>
<text transform="translate(790.5,253) scale(1,1.08)" text-anchor="end">20.48</text>
<text transform="translate(594.5,267) scale(1,1.08)" xml:space="preserve">Num of CITs</text>
<text transform="translate(790.5,267) scale(1,1.08)" text-anchor="end">2</text>
<text transform="translate(594.5,281) scale(1,1.08)" xml:space="preserve">Polarization</text>
<text transform="translate(790.5,281) scale(1,1.08)" text-anchor="end">O-mode</text>
<text transform="translate(594.5,295) scale(1,1.08)" xml:space="preserve">Center of Sources, deg:</text>
<text transform="translate(594.5,309) scale(1,1.08)" xml:space="preserve">          Zenith</text>
<text transform="translate(790.5,309) scale(1,1.08)" text-anchor="end">5.0</text>
<text transform="translate(594.5,323) scale(1,1.08)" xml:space="preserve">          Azimuth</text>
<text transform="translate(790.5,323) scale(1,1.08)" text-anchor="end">208</text>
</g>
<path d="M721.8,320.8 C722.3,318.8 723.4,317.4 724.5,317.5 C725.4,317.7 725.8,318.8 725.7,319.9" fill="none" stroke="#000" stroke-width="1.1"/><path d="M720,319.6 L723.2,319.2 L722.4,321.6Z" fill="#000"/>
<defs><linearGradient id="jet" x1="0" y1="0" x2="0" y2="1"><stop offset="0" stop-color="#0000a0"/><stop offset="0.07" stop-color="#0000ff"/><stop offset="0.355" stop-color="#00ffff"/><stop offset="0.5" stop-color="#80ff80"/><stop offset="0.636" stop-color="#ffff00"/><stop offset="0.9" stop-color="#ff0000"/><stop offset="1" stop-color="#a00000"/></linearGradient></defs>
<rect x="593" y="341" width="15" height="242" fill="url(#jet)"/>
<rect x="608" y="341" width="1.3" height="242" fill="#000"/>
<line x1="608" y1="582.50" x2="615.0" y2="582.50" stroke="#000" stroke-width="1"/>
<line x1="608" y1="578.50" x2="615.0" y2="578.50" stroke="#000" stroke-width="1"/>
<line x1="608" y1="574.50" x2="612.0" y2="574.50" stroke="#000" stroke-width="1"/>
<line x1="608" y1="570.50" x2="612.0" y2="570.50" stroke="#000" stroke-width="1"/>
<line x1="608" y1="566.50" x2="612.0" y2="566.50" stroke="#000" stroke-width="1"/>
<line x1="608" y1="562.50" x2="612.0" y2="562.50" stroke="#000" stroke-width="1"/>
<line x1="608" y1="558.50" x2="615.0" y2="558.50" stroke="#000" stroke-width="1"/>
<line x1="608" y1="554.50" x2="612.0" y2="554.50" stroke="#000" stroke-width="1"/>
<line x1="608" y1="551.50" x2="612.0" y2="551.50" stroke="#000" stroke-width="1"/>
<line x1="608" y1="547.50" x2="612.0" y2="547.50" stroke="#000" stroke-width="1"/>
<line x1="608" y1="543.50" x2="612.0" y2="543.50" stroke="#000" stroke-width="1"/>
<line x1="608" y1="539.50" x2="615.0" y2="539.50" stroke="#000" stroke-width="1"/>
<line x1="608" y1="535.50" x2="612.0" y2="535.50" stroke="#000" stroke-width="1"/>
<line x1="608" y1="531.50" x2="612.0" y2="531.50" stroke="#000" stroke-width="1"/>
<line x1="608" y1="527.50" x2="612.0" y2="527.50" stroke="#000" stroke-width="1"/>
<line x1="608" y1="524.50" x2="612.0" y2="524.50" stroke="#000" stroke-width="1"/>
<line x1="608" y1="520.50" x2="615.0" y2="520.50" stroke="#000" stroke-width="1"/>
<line x1="608" y1="516.50" x2="612.0" y2="516.50" stroke="#000" stroke-width="1"/>
<line x1="608" y1="512.50" x2="612.0" y2="512.50" stroke="#000" stroke-width="1"/>
<line x1="608" y1="508.50" x2="612.0" y2="508.50" stroke="#000" stroke-width="1"/>
<line x1="608" y1="504.50" x2="612.0" y2="504.50" stroke="#000" stroke-width="1"/>
<line x1="608" y1="500.50" x2="615.0" y2="500.50" stroke="#000" stroke-width="1"/>
<line x1="608" y1="497.50" x2="612.0" y2="497.50" stroke="#000" stroke-width="1"/>
<line x1="608" y1="493.50" x2="612.0" y2="493.50" stroke="#000" stroke-width="1"/>
<line x1="608" y1="489.50" x2="612.0" y2="489.50" stroke="#000" stroke-width="1"/>
<line x1="608" y1="485.50" x2="612.0" y2="485.50" stroke="#000" stroke-width="1"/>
<line x1="608" y1="481.50" x2="615.0" y2="481.50" stroke="#000" stroke-width="1"/>
<line x1="608" y1="477.50" x2="612.0" y2="477.50" stroke="#000" stroke-width="1"/>
<line x1="608" y1="473.50" x2="612.0" y2="473.50" stroke="#000" stroke-width="1"/>
<line x1="608" y1="470.50" x2="612.0" y2="470.50" stroke="#000" stroke-width="1"/>
<line x1="608" y1="466.50" x2="612.0" y2="466.50" stroke="#000" stroke-width="1"/>
<line x1="608" y1="462.50" x2="615.0" y2="462.50" stroke="#000" stroke-width="1"/>
<line x1="608" y1="458.50" x2="612.0" y2="458.50" stroke="#000" stroke-width="1"/>
<line x1="608" y1="454.50" x2="612.0" y2="454.50" stroke="#000" stroke-width="1"/>
<line x1="608" y1="450.50" x2="612.0" y2="450.50" stroke="#000" stroke-width="1"/>
<line x1="608" y1="446.50" x2="612.0" y2="446.50" stroke="#000" stroke-width="1"/>
<line x1="608" y1="442.50" x2="615.0" y2="442.50" stroke="#000" stroke-width="1"/>
<line x1="608" y1="439.50" x2="612.0" y2="439.50" stroke="#000" stroke-width="1"/>
<line x1="608" y1="435.50" x2="612.0" y2="435.50" stroke="#000" stroke-width="1"/>
<line x1="608" y1="431.50" x2="612.0" y2="431.50" stroke="#000" stroke-width="1"/>
<line x1="608" y1="427.50" x2="612.0" y2="427.50" stroke="#000" stroke-width="1"/>
<line x1="608" y1="423.50" x2="615.0" y2="423.50" stroke="#000" stroke-width="1"/>
<line x1="608" y1="419.50" x2="612.0" y2="419.50" stroke="#000" stroke-width="1"/>
<line x1="608" y1="415.50" x2="612.0" y2="415.50" stroke="#000" stroke-width="1"/>
<line x1="608" y1="412.50" x2="612.0" y2="412.50" stroke="#000" stroke-width="1"/>
<line x1="608" y1="408.50" x2="612.0" y2="408.50" stroke="#000" stroke-width="1"/>
<line x1="608" y1="404.50" x2="615.0" y2="404.50" stroke="#000" stroke-width="1"/>
<line x1="608" y1="400.50" x2="612.0" y2="400.50" stroke="#000" stroke-width="1"/>
<line x1="608" y1="396.50" x2="612.0" y2="396.50" stroke="#000" stroke-width="1"/>
<line x1="608" y1="392.50" x2="612.0" y2="392.50" stroke="#000" stroke-width="1"/>
<line x1="608" y1="388.50" x2="612.0" y2="388.50" stroke="#000" stroke-width="1"/>
<line x1="608" y1="385.50" x2="615.0" y2="385.50" stroke="#000" stroke-width="1"/>
<line x1="608" y1="381.50" x2="612.0" y2="381.50" stroke="#000" stroke-width="1"/>
<line x1="608" y1="377.50" x2="612.0" y2="377.50" stroke="#000" stroke-width="1"/>
<line x1="608" y1="373.50" x2="612.0" y2="373.50" stroke="#000" stroke-width="1"/>
<line x1="608" y1="369.50" x2="612.0" y2="369.50" stroke="#000" stroke-width="1"/>
<line x1="608" y1="365.50" x2="615.0" y2="365.50" stroke="#000" stroke-width="1"/>
<line x1="608" y1="361.50" x2="612.0" y2="361.50" stroke="#000" stroke-width="1"/>
<line x1="608" y1="358.50" x2="612.0" y2="358.50" stroke="#000" stroke-width="1"/>
<line x1="608" y1="354.50" x2="612.0" y2="354.50" stroke="#000" stroke-width="1"/>
<line x1="608" y1="350.50" x2="612.0" y2="350.50" stroke="#000" stroke-width="1"/>
<line x1="608" y1="346.50" x2="615.0" y2="346.50" stroke="#000" stroke-width="1"/>
<line x1="608" y1="341.50" x2="615.0" y2="341.50" stroke="#000" stroke-width="1"/>
<g font-family="Liberation Sans" font-weight="bold" font-size="10.6" fill="#000">
<text transform="translate(617.6,345.3) scale(1.25,1)">3.1</text>
<text transform="translate(617.6,369.3) scale(1.25,1)">2.5</text>
<text transform="translate(617.6,389.3) scale(1.25,1)">2.0</text>
<text transform="translate(617.6,408.3) scale(1.25,1)">1.5</text>
<text transform="translate(617.6,427.3) scale(1.25,1)">1.0</text>
<text transform="translate(617.6,446.3) scale(1.25,1)">0.5</text>
<text transform="translate(617.6,466.3) scale(1.25,1)">0</text>
<text transform="translate(617.6,485.3) scale(1.25,1)">-0.5</text>
<text transform="translate(617.6,504.3) scale(1.25,1)">-1.0</text>
<text transform="translate(617.6,524.3) scale(1.25,1)">-1.5</text>
<text transform="translate(617.6,543.3) scale(1.25,1)">-2.0</text>
<text transform="translate(617.6,562.3) scale(1.25,1)">-2.5</text>
<text transform="translate(617.6,586.3) scale(1.25,1)">-3.1</text>
</g>
<text x="0" y="0" transform="translate(656.3,492) rotate(-90)" font-family="Liberation Sans" font-weight="bold" font-size="8.4" fill="#000" stroke="#000" stroke-width="0.25" textLength="53.3" lengthAdjust="spacingAndGlyphs">Doppler, Hz</text>
<g font-family="Liberation Sans" font-weight="bold" font-size="11">
<text x="682.7" y="406.5" fill="#0000dd" font-size="10.6" textLength="45" lengthAdjust="spacingAndGlyphs">Positive</text>
<path d="M669,402.5h7M672.5,399v7" stroke="#0000dd" stroke-width="1.2"/>
<text x="682.7" y="526.5" fill="#dd1111" font-size="10.6" textLength="50.5" lengthAdjust="spacingAndGlyphs">Negative</text>
<circle cx="672.7" cy="522.7" r="2.6" fill="none" stroke="#dd1111" stroke-width="1.2"/>
</g>
<g font-family="Liberation Mono" font-size="11.67" fill="#000">
<text transform="translate(12,572) scale(1,1.2)" xml:space="preserve"><tspan font-style="italic">V</tspan></text>
<text transform="translate(19.3,575.8) scale(0.9,1.12)" font-size="10.5">h</text>
<text transform="translate(26,572) scale(1,1.2)" xml:space="preserve"> = <tspan font-style="italic">174</tspan> ± <tspan font-style="italic">23</tspan> m/s</text>
<text transform="translate(12,592.8) scale(1,1.15)" font-style="italic" xml:space="preserve">Geographic coordinates</text>
<text transform="translate(481,572) scale(1,1.2)" xml:space="preserve"><tspan font-style="italic">V</tspan></text>
<text transform="translate(488.3,575.8) scale(0.9,1.12)" font-size="10.5">z</text>
<text transform="translate(495,572) scale(1,1.2)" xml:space="preserve"> = <tspan font-style="italic">6</tspan> ± <tspan font-style="italic">3</tspan> m/s</text>
<text transform="translate(419.5,592.8) scale(1,1.15)" font-style="italic" xml:space="preserve">Zenith: max 40°</text>
<text transform="translate(534,592.8) scale(1,1.15)" font-style="italic" xml:space="preserve">step 5°</text>
</g>
<text x="654.5" y="592.8" font-family="Liberation Sans" font-size="9.3" fill="#000" textLength="89" lengthAdjust="spacingAndGlyphs">ShowSkymap v 1.0</text>
<text x="753.3" y="592.8" font-family="Liberation Sans" font-size="9.3" fill="#000" textLength="39.6" lengthAdjust="spacingAndGlyphs">SD v 5.1</text>
<path d="M14.6,43 C10.3,37 10.1,27 15.3,19.5 C19.8,13.5 27,11 33,11.4 C35.5,11.6 37.5,12.3 39.2,13.4 C34.8,13.5 29.8,14.6 25.8,17.2 C20.5,20.5 16.6,25.5 15.6,31.5 C15,35.5 14.9,39.5 14.6,43Z" fill="#3d9dca"/>
<text x="49" y="30.6" font-family="Liberation Serif" font-size="10.8" fill="#2e2430" stroke="#2e2430" stroke-width="0.4" textLength="30.5" lengthAdjust="spacingAndGlyphs">Lowell</text>
<text x="20.2" y="42.8" font-family="Liberation Sans" font-size="10.3" fill="#9a2a60" stroke="#9a2a60" stroke-width="0.35" textLength="59.3" lengthAdjust="spacingAndGlyphs">DIGISONDE</text>
</svg>
</body></html>
